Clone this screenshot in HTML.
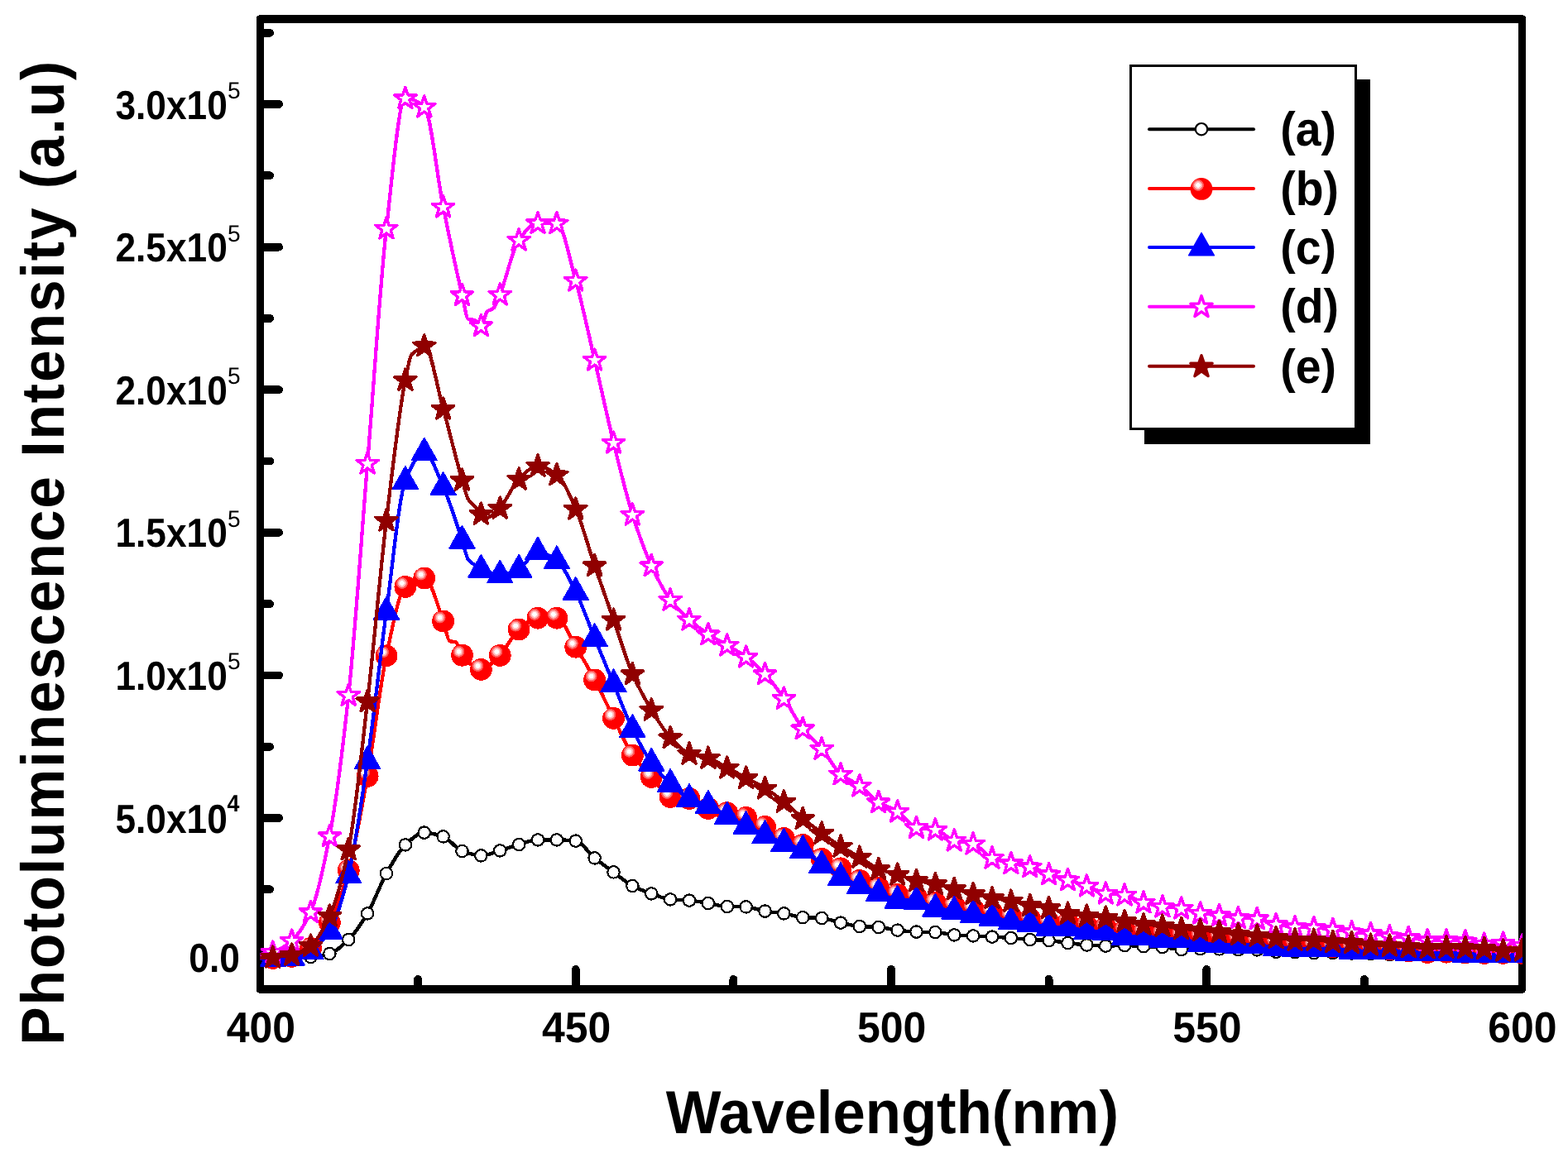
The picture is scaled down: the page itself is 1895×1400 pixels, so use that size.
<!DOCTYPE html>
<html lang="en"><head><meta charset="utf-8"><title>Photoluminescence spectra</title>
<style>html,body{margin:0;padding:0;background:#fff}body{width:1895px;height:1400px;overflow:hidden}svg{display:block}</style></head>
<body>
<svg width="1895" height="1400" viewBox="0 0 1895 1400" font-family="'Liberation Sans', Arial, sans-serif" shape-rendering="crispEdges" text-rendering="geometricPrecision">
<rect x="0" y="0" width="1895" height="1400" fill="#ffffff"/>
<defs>
<clipPath id="plot"><rect x="314.5" y="23.0" width="1525.5" height="1173.0"/></clipPath>
<radialGradient id="ball" cx="0.35" cy="0.335" r="0.262" fx="0.35" fy="0.335" gradientUnits="objectBoundingBox"><stop offset="0" stop-color="#ffffff"/><stop offset="0.38" stop-color="#ffffff"/><stop offset="0.42" stop-color="#ffc8c8"/><stop offset="0.68" stop-color="#ffb0b0"/><stop offset="0.72" stop-color="#ff6868"/><stop offset="0.97" stop-color="#ff5050"/><stop offset="1" stop-color="#ff0000"/></radialGradient>
</defs>
<g stroke="#000" fill="none" stroke-linecap="round" stroke-linejoin="round">
<rect x="314.5" y="23.0" width="1525.0" height="1173.0" stroke-width="9.6"/>
<line x1="314.5" y1="126.00" x2="337.10" y2="126.00" stroke-width="9.8"/>
<line x1="314.5" y1="298.60" x2="337.10" y2="298.60" stroke-width="9.8"/>
<line x1="314.5" y1="471.20" x2="337.10" y2="471.20" stroke-width="9.8"/>
<line x1="314.5" y1="643.80" x2="337.10" y2="643.80" stroke-width="9.8"/>
<line x1="314.5" y1="816.40" x2="337.10" y2="816.40" stroke-width="9.8"/>
<line x1="314.5" y1="989.00" x2="337.10" y2="989.00" stroke-width="9.8"/>
<line x1="314.5" y1="1161.60" x2="337.10" y2="1161.60" stroke-width="9.8"/>
<line x1="314.5" y1="39.70" x2="326.10" y2="39.70" stroke-width="9.8"/>
<line x1="314.5" y1="212.30" x2="326.10" y2="212.30" stroke-width="9.8"/>
<line x1="314.5" y1="384.90" x2="326.10" y2="384.90" stroke-width="9.8"/>
<line x1="314.5" y1="557.50" x2="326.10" y2="557.50" stroke-width="9.8"/>
<line x1="314.5" y1="730.10" x2="326.10" y2="730.10" stroke-width="9.8"/>
<line x1="314.5" y1="902.70" x2="326.10" y2="902.70" stroke-width="9.8"/>
<line x1="314.5" y1="1075.30" x2="326.10" y2="1075.30" stroke-width="9.8"/>
<line x1="695.75" y1="1196.0" x2="695.75" y2="1171.90" stroke-width="9.8"/>
<line x1="1077.00" y1="1196.0" x2="1077.00" y2="1171.90" stroke-width="9.8"/>
<line x1="1458.25" y1="1196.0" x2="1458.25" y2="1171.90" stroke-width="9.8"/>
<line x1="505.12" y1="1196.0" x2="505.12" y2="1183.90" stroke-width="9.8"/>
<line x1="886.38" y1="1196.0" x2="886.38" y2="1183.90" stroke-width="9.8"/>
<line x1="1267.62" y1="1196.0" x2="1267.62" y2="1183.90" stroke-width="9.8"/>
<line x1="1648.88" y1="1196.0" x2="1648.88" y2="1183.90" stroke-width="9.8"/>
</g>
<g fill="#000">
<text transform="matrix(0.49876 0 0 0.52113 273.752 1260.379)" font-size="100" font-weight="bold" text-anchor="start">400</text>
<text transform="matrix(0.49876 0 0 0.52113 655.002 1260.379)" font-size="100" font-weight="bold" text-anchor="start">450</text>
<text transform="matrix(0.49876 0 0 0.52113 1036.003 1260.379)" font-size="100" font-weight="bold" text-anchor="start">500</text>
<text transform="matrix(0.49876 0 0 0.52113 1417.253 1260.379)" font-size="100" font-weight="bold" text-anchor="start">550</text>
<text transform="matrix(0.49876 0 0 0.52113 1798.254 1260.379)" font-size="100" font-weight="bold" text-anchor="start">600</text>
<text transform="matrix(0.44247 0 0 0.49014 139.473 143.560)" font-size="100" font-weight="bold" text-anchor="start">3.0x10</text>
<text transform="matrix(0.28085 0 0 0.28429 274.877 118.666)" font-size="100" font-weight="normal" text-anchor="start">5</text>
<text transform="matrix(0.44247 0 0 0.49014 139.473 316.460)" font-size="100" font-weight="bold" text-anchor="start">2.5x10</text>
<text transform="matrix(0.28085 0 0 0.28429 274.877 291.566)" font-size="100" font-weight="normal" text-anchor="start">5</text>
<text transform="matrix(0.44247 0 0 0.49014 139.473 488.960)" font-size="100" font-weight="bold" text-anchor="start">2.0x10</text>
<text transform="matrix(0.28085 0 0 0.28429 274.877 464.066)" font-size="100" font-weight="normal" text-anchor="start">5</text>
<text transform="matrix(0.44247 0 0 0.49014 139.473 661.460)" font-size="100" font-weight="bold" text-anchor="start">1.5x10</text>
<text transform="matrix(0.28085 0 0 0.28429 274.877 636.566)" font-size="100" font-weight="normal" text-anchor="start">5</text>
<text transform="matrix(0.44247 0 0 0.49014 139.473 833.560)" font-size="100" font-weight="bold" text-anchor="start">1.0x10</text>
<text transform="matrix(0.28085 0 0 0.28429 274.877 808.666)" font-size="100" font-weight="normal" text-anchor="start">5</text>
<text transform="matrix(0.44247 0 0 0.49014 139.473 1006.560)" font-size="100" font-weight="bold" text-anchor="start">5.0x10</text>
<text transform="matrix(0.26792 0 0 0.28841 274.464 980.850)" font-size="100" font-weight="bold" text-anchor="start">4</text>
<text transform="matrix(0.44247 0 0 0.49014 228.366 1174.510)" font-size="100" font-weight="bold" text-anchor="start">0.0</text>
<text transform="matrix(0 -0.69500 0.73333 0 76.800 1263.765)" font-size="100" font-weight="bold" letter-spacing="2.804">Photoluminescence Intensity (a.u)</text>
<text transform="matrix(0.70702 0 0 0.73226 804.700 1370.223)" font-size="100" font-weight="bold" >Wavelength(nm)</text>
</g>
<g clip-path="url(#plot)" shape-rendering="crispEdges">
<path d="M314.50,1160.00 C319.58,1160.00 324.67,1160.00 329.75,1160.00 C337.38,1160.00 345.00,1159.44 352.62,1159.00 C360.25,1158.56 367.88,1157.89 375.50,1157.00 C383.12,1156.11 390.75,1155.16 398.38,1153.00 C406.00,1150.84 413.62,1143.37 421.25,1136.00 C428.88,1128.63 436.50,1117.15 444.12,1104.40 C451.75,1091.65 459.38,1069.45 467.00,1056.00 C474.62,1042.55 482.25,1028.31 489.88,1021.40 C497.50,1014.49 505.12,1006.60 512.75,1006.60 C520.38,1006.60 528.00,1008.89 535.62,1011.40 C543.25,1013.91 550.88,1026.25 558.50,1029.00 C566.12,1031.75 573.75,1034.40 581.38,1034.40 C589.00,1034.40 596.62,1030.61 604.25,1028.40 C611.88,1026.19 619.50,1023.13 627.12,1021.00 C634.75,1018.87 642.38,1015.40 650.00,1015.40 C657.62,1015.40 665.25,1015.40 672.88,1015.40 C680.50,1015.40 688.12,1015.84 695.75,1016.60 C703.38,1017.36 711.00,1031.16 718.62,1037.40 C726.25,1043.64 733.88,1048.80 741.50,1054.40 C749.12,1060.00 756.75,1067.00 764.38,1071.00 C772.00,1075.00 779.62,1077.73 787.25,1080.40 C794.88,1083.07 802.50,1086.72 810.12,1087.40 C817.75,1088.08 825.38,1088.01 833.00,1088.60 C840.62,1089.19 848.25,1090.77 855.88,1092.00 C863.50,1093.23 871.12,1095.76 878.75,1096.00 C886.38,1096.24 894.00,1096.15 901.62,1096.40 C909.25,1096.65 916.88,1100.39 924.50,1101.60 C932.12,1102.81 939.75,1103.22 947.38,1104.40 C955.00,1105.58 962.62,1108.74 970.25,1109.20 C977.88,1109.66 985.50,1109.53 993.12,1110.00 C1000.75,1110.47 1008.38,1113.96 1016.00,1115.60 C1023.62,1117.24 1031.25,1119.46 1038.88,1120.00 C1046.50,1120.54 1054.12,1120.48 1061.75,1121.00 C1069.38,1121.52 1077.00,1123.74 1084.62,1124.60 C1092.25,1125.46 1099.88,1126.38 1107.50,1126.60 C1115.12,1126.82 1122.75,1126.76 1130.38,1127.00 C1138.00,1127.24 1145.62,1129.88 1153.25,1130.40 C1160.88,1130.92 1168.50,1131.04 1176.12,1131.40 C1183.75,1131.76 1191.38,1132.17 1199.00,1132.60 C1206.62,1133.03 1214.25,1133.45 1221.88,1134.00 C1229.50,1134.55 1237.12,1135.56 1244.75,1136.00 C1252.38,1136.44 1260.00,1136.50 1267.62,1137.00 C1275.25,1137.50 1282.88,1139.09 1290.50,1140.00 C1298.12,1140.91 1305.75,1141.99 1313.38,1142.50 C1321.00,1143.01 1328.62,1143.60 1336.25,1143.60 C1343.88,1143.60 1351.50,1143.00 1359.12,1143.00 C1366.75,1143.00 1374.38,1143.77 1382.00,1144.10 C1389.62,1144.43 1397.25,1144.54 1404.88,1145.00 C1412.50,1145.46 1420.12,1148.00 1427.75,1148.00 C1435.38,1148.00 1443.00,1147.20 1450.62,1147.20 C1458.25,1147.20 1465.88,1147.29 1473.50,1147.40 C1481.12,1147.51 1488.75,1148.09 1496.38,1148.20 C1504.00,1148.31 1511.62,1148.28 1519.25,1148.40 C1526.88,1148.52 1534.50,1150.43 1542.12,1150.70 C1549.75,1150.97 1557.38,1150.98 1565.00,1151.20 C1572.62,1151.42 1580.25,1152.20 1587.88,1152.20 C1595.50,1152.20 1603.12,1152.20 1610.75,1152.20 C1618.38,1152.20 1626.00,1152.40 1633.62,1152.50 C1641.25,1152.60 1648.88,1152.64 1656.50,1152.80 C1664.12,1152.96 1671.75,1154.20 1679.38,1154.20 C1687.00,1154.20 1694.62,1153.50 1702.25,1153.50 C1709.88,1153.50 1717.50,1154.00 1725.12,1154.00 C1732.75,1154.00 1740.38,1154.00 1748.00,1154.00 C1755.62,1154.00 1763.25,1154.33 1770.88,1154.50 C1778.50,1154.67 1786.12,1155.00 1793.75,1155.00 C1801.38,1155.00 1809.00,1155.00 1816.62,1155.00 C1824.25,1155.00 1831.88,1155.33 1839.50,1155.50" fill="none" stroke="#000000" stroke-width="4.3999999999999995" stroke-linejoin="round" stroke-linecap="round"/>
<circle cx="329.75" cy="1160.00" r="7.2" fill="#fff" stroke="#000" stroke-width="2.2"/>
<circle cx="352.62" cy="1159.00" r="7.2" fill="#fff" stroke="#000" stroke-width="2.2"/>
<circle cx="375.50" cy="1157.00" r="7.2" fill="#fff" stroke="#000" stroke-width="2.2"/>
<circle cx="398.38" cy="1153.00" r="7.2" fill="#fff" stroke="#000" stroke-width="2.2"/>
<circle cx="421.25" cy="1136.00" r="7.2" fill="#fff" stroke="#000" stroke-width="2.2"/>
<circle cx="444.12" cy="1104.40" r="7.2" fill="#fff" stroke="#000" stroke-width="2.2"/>
<circle cx="467.00" cy="1056.00" r="7.2" fill="#fff" stroke="#000" stroke-width="2.2"/>
<circle cx="489.88" cy="1021.40" r="7.2" fill="#fff" stroke="#000" stroke-width="2.2"/>
<circle cx="512.75" cy="1006.60" r="7.2" fill="#fff" stroke="#000" stroke-width="2.2"/>
<circle cx="535.62" cy="1011.40" r="7.2" fill="#fff" stroke="#000" stroke-width="2.2"/>
<circle cx="558.50" cy="1029.00" r="7.2" fill="#fff" stroke="#000" stroke-width="2.2"/>
<circle cx="581.38" cy="1034.40" r="7.2" fill="#fff" stroke="#000" stroke-width="2.2"/>
<circle cx="604.25" cy="1028.40" r="7.2" fill="#fff" stroke="#000" stroke-width="2.2"/>
<circle cx="627.12" cy="1021.00" r="7.2" fill="#fff" stroke="#000" stroke-width="2.2"/>
<circle cx="650.00" cy="1015.40" r="7.2" fill="#fff" stroke="#000" stroke-width="2.2"/>
<circle cx="672.88" cy="1015.40" r="7.2" fill="#fff" stroke="#000" stroke-width="2.2"/>
<circle cx="695.75" cy="1016.60" r="7.2" fill="#fff" stroke="#000" stroke-width="2.2"/>
<circle cx="718.62" cy="1037.40" r="7.2" fill="#fff" stroke="#000" stroke-width="2.2"/>
<circle cx="741.50" cy="1054.40" r="7.2" fill="#fff" stroke="#000" stroke-width="2.2"/>
<circle cx="764.38" cy="1071.00" r="7.2" fill="#fff" stroke="#000" stroke-width="2.2"/>
<circle cx="787.25" cy="1080.40" r="7.2" fill="#fff" stroke="#000" stroke-width="2.2"/>
<circle cx="810.12" cy="1087.40" r="7.2" fill="#fff" stroke="#000" stroke-width="2.2"/>
<circle cx="833.00" cy="1088.60" r="7.2" fill="#fff" stroke="#000" stroke-width="2.2"/>
<circle cx="855.88" cy="1092.00" r="7.2" fill="#fff" stroke="#000" stroke-width="2.2"/>
<circle cx="878.75" cy="1096.00" r="7.2" fill="#fff" stroke="#000" stroke-width="2.2"/>
<circle cx="901.62" cy="1096.40" r="7.2" fill="#fff" stroke="#000" stroke-width="2.2"/>
<circle cx="924.50" cy="1101.60" r="7.2" fill="#fff" stroke="#000" stroke-width="2.2"/>
<circle cx="947.38" cy="1104.40" r="7.2" fill="#fff" stroke="#000" stroke-width="2.2"/>
<circle cx="970.25" cy="1109.20" r="7.2" fill="#fff" stroke="#000" stroke-width="2.2"/>
<circle cx="993.12" cy="1110.00" r="7.2" fill="#fff" stroke="#000" stroke-width="2.2"/>
<circle cx="1016.00" cy="1115.60" r="7.2" fill="#fff" stroke="#000" stroke-width="2.2"/>
<circle cx="1038.88" cy="1120.00" r="7.2" fill="#fff" stroke="#000" stroke-width="2.2"/>
<circle cx="1061.75" cy="1121.00" r="7.2" fill="#fff" stroke="#000" stroke-width="2.2"/>
<circle cx="1084.62" cy="1124.60" r="7.2" fill="#fff" stroke="#000" stroke-width="2.2"/>
<circle cx="1107.50" cy="1126.60" r="7.2" fill="#fff" stroke="#000" stroke-width="2.2"/>
<circle cx="1130.38" cy="1127.00" r="7.2" fill="#fff" stroke="#000" stroke-width="2.2"/>
<circle cx="1153.25" cy="1130.40" r="7.2" fill="#fff" stroke="#000" stroke-width="2.2"/>
<circle cx="1176.12" cy="1131.40" r="7.2" fill="#fff" stroke="#000" stroke-width="2.2"/>
<circle cx="1199.00" cy="1132.60" r="7.2" fill="#fff" stroke="#000" stroke-width="2.2"/>
<circle cx="1221.88" cy="1134.00" r="7.2" fill="#fff" stroke="#000" stroke-width="2.2"/>
<circle cx="1244.75" cy="1136.00" r="7.2" fill="#fff" stroke="#000" stroke-width="2.2"/>
<circle cx="1267.62" cy="1137.00" r="7.2" fill="#fff" stroke="#000" stroke-width="2.2"/>
<circle cx="1290.50" cy="1140.00" r="7.2" fill="#fff" stroke="#000" stroke-width="2.2"/>
<circle cx="1313.38" cy="1142.50" r="7.2" fill="#fff" stroke="#000" stroke-width="2.2"/>
<circle cx="1336.25" cy="1143.60" r="7.2" fill="#fff" stroke="#000" stroke-width="2.2"/>
<circle cx="1359.12" cy="1143.00" r="7.2" fill="#fff" stroke="#000" stroke-width="2.2"/>
<circle cx="1382.00" cy="1144.10" r="7.2" fill="#fff" stroke="#000" stroke-width="2.2"/>
<circle cx="1404.88" cy="1145.00" r="7.2" fill="#fff" stroke="#000" stroke-width="2.2"/>
<circle cx="1427.75" cy="1148.00" r="7.2" fill="#fff" stroke="#000" stroke-width="2.2"/>
<circle cx="1450.62" cy="1147.20" r="7.2" fill="#fff" stroke="#000" stroke-width="2.2"/>
<circle cx="1473.50" cy="1147.40" r="7.2" fill="#fff" stroke="#000" stroke-width="2.2"/>
<circle cx="1496.38" cy="1148.20" r="7.2" fill="#fff" stroke="#000" stroke-width="2.2"/>
<circle cx="1519.25" cy="1148.40" r="7.2" fill="#fff" stroke="#000" stroke-width="2.2"/>
<circle cx="1542.12" cy="1150.70" r="7.2" fill="#fff" stroke="#000" stroke-width="2.2"/>
<circle cx="1565.00" cy="1151.20" r="7.2" fill="#fff" stroke="#000" stroke-width="2.2"/>
<circle cx="1587.88" cy="1152.20" r="7.2" fill="#fff" stroke="#000" stroke-width="2.2"/>
<circle cx="1610.75" cy="1152.20" r="7.2" fill="#fff" stroke="#000" stroke-width="2.2"/>
<circle cx="1633.62" cy="1152.50" r="7.2" fill="#fff" stroke="#000" stroke-width="2.2"/>
<circle cx="1656.50" cy="1152.80" r="7.2" fill="#fff" stroke="#000" stroke-width="2.2"/>
<circle cx="1679.38" cy="1154.20" r="7.2" fill="#fff" stroke="#000" stroke-width="2.2"/>
<circle cx="1702.25" cy="1153.50" r="7.2" fill="#fff" stroke="#000" stroke-width="2.2"/>
<circle cx="1725.12" cy="1154.00" r="7.2" fill="#fff" stroke="#000" stroke-width="2.2"/>
<circle cx="1748.00" cy="1154.00" r="7.2" fill="#fff" stroke="#000" stroke-width="2.2"/>
<circle cx="1770.88" cy="1154.50" r="7.2" fill="#fff" stroke="#000" stroke-width="2.2"/>
<circle cx="1793.75" cy="1155.00" r="7.2" fill="#fff" stroke="#000" stroke-width="2.2"/>
<circle cx="1816.62" cy="1155.00" r="7.2" fill="#fff" stroke="#000" stroke-width="2.2"/>
<circle cx="1839.50" cy="1155.50" r="7.2" fill="#fff" stroke="#000" stroke-width="2.2"/>
<path d="M314.50,1158.50 C319.58,1158.33 324.67,1158.24 329.75,1158.00 C337.38,1157.65 345.00,1157.11 352.62,1156.00 C360.25,1154.89 367.88,1151.04 375.50,1146.00 C383.12,1140.96 390.75,1128.85 398.38,1115.00 C406.00,1101.15 413.62,1079.05 421.25,1052.00 C428.88,1024.95 436.50,980.63 444.12,938.00 C451.75,895.37 459.38,827.75 467.00,792.40 C474.62,757.05 482.25,715.16 489.88,709.00 C497.50,702.84 505.12,698.60 512.75,698.60 C520.38,698.60 528.00,729.74 535.62,750.60 C538.17,757.55 540.71,774.06 543.25,775.00 C545.79,775.94 548.33,775.59 550.88,776.50 C553.42,777.41 555.96,788.79 558.50,791.80 C566.12,800.83 573.75,809.00 581.38,809.00 C589.00,809.00 596.62,799.35 604.25,792.00 C611.88,784.65 619.50,766.99 627.12,760.60 C634.75,754.21 642.38,746.80 650.00,746.80 C657.62,746.80 665.25,746.80 672.88,746.80 C680.50,746.80 688.12,769.40 695.75,781.80 C703.38,794.20 711.00,807.22 718.62,821.50 C726.25,835.78 733.88,852.81 741.50,868.00 C749.12,883.19 756.75,901.66 764.38,912.70 C772.00,923.74 779.62,930.63 787.25,939.00 C794.88,947.37 802.50,961.77 810.12,963.00 C817.75,964.23 825.38,963.86 833.00,965.00 C840.62,966.14 848.25,974.55 855.88,977.00 C863.50,979.45 871.12,980.47 878.75,982.30 C886.38,984.13 894.00,985.50 901.62,988.00 C909.25,990.50 916.88,994.89 924.50,999.00 C932.12,1003.11 939.75,1009.61 947.38,1013.00 C955.00,1016.39 962.62,1017.37 970.25,1021.00 C977.88,1024.63 985.50,1033.45 993.12,1038.00 C1000.75,1042.55 1008.38,1045.13 1016.00,1049.40 C1023.62,1053.67 1031.25,1060.29 1038.88,1064.00 C1046.50,1067.71 1054.12,1070.18 1061.75,1073.00 C1069.38,1075.82 1077.00,1079.55 1084.62,1081.00 C1092.25,1082.45 1099.88,1082.60 1107.50,1084.00 C1115.12,1085.40 1122.75,1089.30 1130.38,1091.00 C1138.00,1092.70 1145.62,1093.67 1153.25,1095.00 C1160.88,1096.33 1168.50,1097.67 1176.12,1099.00 C1183.75,1100.33 1191.38,1101.52 1199.00,1103.00 C1206.62,1104.48 1214.25,1106.75 1221.88,1108.00 C1229.50,1109.25 1237.12,1109.86 1244.75,1111.00 C1252.38,1112.14 1260.00,1115.00 1267.62,1115.00 C1275.25,1115.00 1282.88,1115.00 1290.50,1115.00 C1298.12,1115.00 1305.75,1118.11 1313.38,1119.00 C1321.00,1119.89 1328.62,1120.11 1336.25,1121.00 C1343.88,1121.89 1351.50,1124.11 1359.12,1125.00 C1366.75,1125.89 1374.38,1126.33 1382.00,1127.00 C1389.62,1127.67 1397.25,1128.33 1404.88,1129.00 C1412.50,1129.67 1420.12,1130.56 1427.75,1131.00 C1435.38,1131.44 1443.00,1131.70 1450.62,1132.00 C1458.25,1132.30 1465.88,1132.41 1473.50,1132.80 C1481.12,1133.19 1488.75,1134.12 1496.38,1135.00 C1504.00,1135.88 1511.62,1137.55 1519.25,1138.30 C1526.88,1139.05 1534.50,1139.47 1542.12,1140.00 C1549.75,1140.53 1557.38,1141.00 1565.00,1141.50 C1572.62,1142.00 1580.25,1142.50 1587.88,1143.00 C1595.50,1143.50 1603.12,1144.10 1610.75,1144.50 C1618.38,1144.90 1626.00,1145.15 1633.62,1145.50 C1641.25,1145.85 1648.88,1146.29 1656.50,1146.60 C1664.12,1146.91 1671.75,1147.01 1679.38,1147.40 C1687.00,1147.79 1694.62,1148.92 1702.25,1149.50 C1709.88,1150.08 1717.50,1151.00 1725.12,1151.00 C1732.75,1151.00 1740.38,1150.80 1748.00,1150.80 C1755.62,1150.80 1763.25,1151.31 1770.88,1151.50 C1778.50,1151.69 1786.12,1152.00 1793.75,1152.00 C1801.38,1152.00 1809.00,1152.00 1816.62,1152.00 C1824.25,1152.00 1831.88,1152.00 1839.50,1152.00" fill="none" stroke="#ff0000" stroke-width="4.3" stroke-linejoin="round" stroke-linecap="round"/>
<circle cx="329.75" cy="1158.40" r="13.4" fill="url(#ball)"/>
<circle cx="352.62" cy="1156.40" r="13.4" fill="url(#ball)"/>
<circle cx="375.50" cy="1146.40" r="13.4" fill="url(#ball)"/>
<circle cx="398.38" cy="1115.40" r="13.4" fill="url(#ball)"/>
<circle cx="421.25" cy="1052.40" r="13.4" fill="url(#ball)"/>
<circle cx="444.12" cy="938.40" r="13.4" fill="url(#ball)"/>
<circle cx="467.00" cy="792.80" r="13.4" fill="url(#ball)"/>
<circle cx="489.88" cy="709.40" r="13.4" fill="url(#ball)"/>
<circle cx="512.75" cy="699.00" r="13.4" fill="url(#ball)"/>
<circle cx="535.62" cy="751.00" r="13.4" fill="url(#ball)"/>
<circle cx="558.50" cy="792.20" r="13.4" fill="url(#ball)"/>
<circle cx="581.38" cy="809.40" r="13.4" fill="url(#ball)"/>
<circle cx="604.25" cy="792.40" r="13.4" fill="url(#ball)"/>
<circle cx="627.12" cy="761.00" r="13.4" fill="url(#ball)"/>
<circle cx="650.00" cy="747.20" r="13.4" fill="url(#ball)"/>
<circle cx="672.88" cy="747.20" r="13.4" fill="url(#ball)"/>
<circle cx="695.75" cy="782.20" r="13.4" fill="url(#ball)"/>
<circle cx="718.62" cy="821.90" r="13.4" fill="url(#ball)"/>
<circle cx="741.50" cy="868.40" r="13.4" fill="url(#ball)"/>
<circle cx="764.38" cy="913.10" r="13.4" fill="url(#ball)"/>
<circle cx="787.25" cy="939.40" r="13.4" fill="url(#ball)"/>
<circle cx="810.12" cy="963.40" r="13.4" fill="url(#ball)"/>
<circle cx="833.00" cy="965.40" r="13.4" fill="url(#ball)"/>
<circle cx="855.88" cy="977.40" r="13.4" fill="url(#ball)"/>
<circle cx="878.75" cy="982.70" r="13.4" fill="url(#ball)"/>
<circle cx="901.62" cy="988.40" r="13.4" fill="url(#ball)"/>
<circle cx="924.50" cy="999.40" r="13.4" fill="url(#ball)"/>
<circle cx="947.38" cy="1013.40" r="13.4" fill="url(#ball)"/>
<circle cx="970.25" cy="1021.40" r="13.4" fill="url(#ball)"/>
<circle cx="993.12" cy="1038.40" r="13.4" fill="url(#ball)"/>
<circle cx="1016.00" cy="1049.80" r="13.4" fill="url(#ball)"/>
<circle cx="1038.88" cy="1064.40" r="13.4" fill="url(#ball)"/>
<circle cx="1061.75" cy="1073.40" r="13.4" fill="url(#ball)"/>
<circle cx="1084.62" cy="1081.40" r="13.4" fill="url(#ball)"/>
<circle cx="1107.50" cy="1084.40" r="13.4" fill="url(#ball)"/>
<circle cx="1130.38" cy="1091.40" r="13.4" fill="url(#ball)"/>
<circle cx="1153.25" cy="1095.40" r="13.4" fill="url(#ball)"/>
<circle cx="1176.12" cy="1099.40" r="13.4" fill="url(#ball)"/>
<circle cx="1199.00" cy="1103.40" r="13.4" fill="url(#ball)"/>
<circle cx="1221.88" cy="1108.40" r="13.4" fill="url(#ball)"/>
<circle cx="1244.75" cy="1111.40" r="13.4" fill="url(#ball)"/>
<circle cx="1267.62" cy="1115.40" r="13.4" fill="url(#ball)"/>
<circle cx="1290.50" cy="1115.40" r="13.4" fill="url(#ball)"/>
<circle cx="1313.38" cy="1119.40" r="13.4" fill="url(#ball)"/>
<circle cx="1336.25" cy="1121.40" r="13.4" fill="url(#ball)"/>
<circle cx="1359.12" cy="1125.40" r="13.4" fill="url(#ball)"/>
<circle cx="1382.00" cy="1127.40" r="13.4" fill="url(#ball)"/>
<circle cx="1404.88" cy="1129.40" r="13.4" fill="url(#ball)"/>
<circle cx="1427.75" cy="1131.40" r="13.4" fill="url(#ball)"/>
<circle cx="1450.62" cy="1132.40" r="13.4" fill="url(#ball)"/>
<circle cx="1473.50" cy="1133.20" r="13.4" fill="url(#ball)"/>
<circle cx="1496.38" cy="1135.40" r="13.4" fill="url(#ball)"/>
<circle cx="1519.25" cy="1138.70" r="13.4" fill="url(#ball)"/>
<circle cx="1542.12" cy="1140.40" r="13.4" fill="url(#ball)"/>
<circle cx="1565.00" cy="1141.90" r="13.4" fill="url(#ball)"/>
<circle cx="1587.88" cy="1143.40" r="13.4" fill="url(#ball)"/>
<circle cx="1610.75" cy="1144.90" r="13.4" fill="url(#ball)"/>
<circle cx="1633.62" cy="1145.90" r="13.4" fill="url(#ball)"/>
<circle cx="1656.50" cy="1147.00" r="13.4" fill="url(#ball)"/>
<circle cx="1679.38" cy="1147.80" r="13.4" fill="url(#ball)"/>
<circle cx="1702.25" cy="1149.90" r="13.4" fill="url(#ball)"/>
<circle cx="1725.12" cy="1151.40" r="13.4" fill="url(#ball)"/>
<circle cx="1748.00" cy="1151.20" r="13.4" fill="url(#ball)"/>
<circle cx="1770.88" cy="1151.90" r="13.4" fill="url(#ball)"/>
<circle cx="1793.75" cy="1152.40" r="13.4" fill="url(#ball)"/>
<circle cx="1816.62" cy="1152.40" r="13.4" fill="url(#ball)"/>
<circle cx="1839.50" cy="1152.40" r="13.4" fill="url(#ball)"/>
<path d="M314.50,1159.00 C319.58,1158.80 324.67,1158.64 329.75,1158.40 C337.38,1158.04 345.00,1157.79 352.62,1157.00 C360.25,1156.21 367.88,1153.26 375.50,1149.40 C383.12,1145.54 390.75,1136.93 398.38,1125.00 C406.00,1113.07 413.62,1087.96 421.25,1057.80 C428.88,1027.64 436.50,971.61 444.12,919.40 C451.75,867.19 459.38,795.10 467.00,739.00 C474.62,682.90 482.25,600.17 489.88,581.30 C497.50,562.43 505.12,546.80 512.75,546.80 C520.38,546.80 528.00,571.44 535.62,588.30 C543.25,605.16 550.88,630.08 558.50,653.00 C561.04,660.64 563.58,673.80 566.12,677.00 C568.67,680.20 571.21,681.18 573.75,683.00 C576.29,684.82 578.83,686.89 581.38,688.00 C589.00,691.33 596.62,694.80 604.25,694.80 C611.88,694.80 619.50,691.43 627.12,688.00 C634.75,684.57 642.38,666.80 650.00,666.80 C657.62,666.80 665.25,672.00 672.88,677.60 C680.50,683.20 688.12,700.28 695.75,715.30 C703.38,730.32 711.00,752.75 718.62,771.30 C726.25,789.85 733.88,808.27 741.50,826.60 C749.12,844.93 756.75,865.74 764.38,881.30 C772.00,896.86 779.62,911.62 787.25,922.00 C794.88,932.38 802.50,940.18 810.12,947.20 C817.75,954.22 825.38,961.60 833.00,965.30 C840.62,969.00 848.25,969.95 855.88,973.30 C863.50,976.65 871.12,982.62 878.75,986.80 C886.38,990.98 894.00,994.74 901.62,998.50 C909.25,1002.26 916.88,1005.98 924.50,1009.40 C932.12,1012.82 939.75,1016.14 947.38,1019.10 C955.00,1022.06 962.62,1023.52 970.25,1027.30 C977.88,1031.08 985.50,1040.15 993.12,1045.60 C1000.75,1051.05 1008.38,1056.37 1016.00,1060.40 C1023.62,1064.43 1031.25,1067.38 1038.88,1070.60 C1046.50,1073.82 1054.12,1076.91 1061.75,1079.80 C1069.38,1082.69 1077.00,1087.41 1084.62,1088.00 C1092.25,1088.59 1099.88,1088.40 1107.50,1089.00 C1115.12,1089.60 1122.75,1096.50 1130.38,1098.00 C1138.00,1099.50 1145.62,1099.86 1153.25,1101.00 C1160.88,1102.14 1168.50,1103.67 1176.12,1105.00 C1183.75,1106.33 1191.38,1107.55 1199.00,1109.00 C1206.62,1110.45 1214.25,1112.79 1221.88,1113.80 C1229.50,1114.81 1237.12,1114.98 1244.75,1116.00 C1252.38,1117.02 1260.00,1120.75 1267.62,1121.00 C1275.25,1121.25 1282.88,1121.16 1290.50,1121.40 C1298.12,1121.64 1305.75,1124.87 1313.38,1125.40 C1321.00,1125.93 1328.62,1125.83 1336.25,1126.40 C1343.88,1126.97 1351.50,1132.00 1359.12,1132.00 C1366.75,1132.00 1374.38,1132.00 1382.00,1132.00 C1389.62,1132.00 1397.25,1135.00 1404.88,1135.00 C1412.50,1135.00 1420.12,1135.00 1427.75,1135.00 C1435.38,1135.00 1443.00,1140.23 1450.62,1140.80 C1458.25,1141.37 1465.88,1141.61 1473.50,1141.80 C1481.12,1141.99 1488.75,1142.20 1496.38,1142.20 C1504.00,1142.20 1511.62,1142.20 1519.25,1142.20 C1526.88,1142.20 1534.50,1145.28 1542.12,1145.80 C1549.75,1146.32 1557.38,1146.80 1565.00,1146.80 C1572.62,1146.80 1580.25,1146.80 1587.88,1146.80 C1595.50,1146.80 1603.12,1146.80 1610.75,1146.80 C1618.38,1146.80 1626.00,1149.17 1633.62,1149.40 C1641.25,1149.63 1648.88,1149.80 1656.50,1149.80 C1664.12,1149.80 1671.75,1149.80 1679.38,1149.80 C1687.00,1149.80 1694.62,1151.19 1702.25,1151.40 C1709.88,1151.61 1717.50,1151.80 1725.12,1151.80 C1732.75,1151.80 1740.38,1151.80 1748.00,1151.80 C1755.62,1151.80 1763.25,1153.19 1770.88,1153.40 C1778.50,1153.61 1786.12,1153.80 1793.75,1153.80 C1801.38,1153.80 1809.00,1153.80 1816.62,1153.80 C1824.25,1153.80 1831.88,1153.80 1839.50,1153.80" fill="none" stroke="#0000ff" stroke-width="4.3" stroke-linejoin="round" stroke-linecap="round"/>
<polygon points="329.75,1141.00 345.10,1168.20 314.40,1168.20" fill="#0000ff" stroke="#0000ff" stroke-width="1.6" stroke-linejoin="round"/>
<polygon points="352.62,1139.60 367.98,1166.80 337.27,1166.80" fill="#0000ff" stroke="#0000ff" stroke-width="1.6" stroke-linejoin="round"/>
<polygon points="375.50,1132.00 390.85,1159.20 360.15,1159.20" fill="#0000ff" stroke="#0000ff" stroke-width="1.6" stroke-linejoin="round"/>
<polygon points="398.38,1107.60 413.73,1134.80 383.02,1134.80" fill="#0000ff" stroke="#0000ff" stroke-width="1.6" stroke-linejoin="round"/>
<polygon points="421.25,1040.40 436.60,1067.60 405.90,1067.60" fill="#0000ff" stroke="#0000ff" stroke-width="1.6" stroke-linejoin="round"/>
<polygon points="444.12,902.00 459.48,929.20 428.77,929.20" fill="#0000ff" stroke="#0000ff" stroke-width="1.6" stroke-linejoin="round"/>
<polygon points="467.00,721.60 482.35,748.80 451.65,748.80" fill="#0000ff" stroke="#0000ff" stroke-width="1.6" stroke-linejoin="round"/>
<polygon points="489.88,563.90 505.23,591.10 474.52,591.10" fill="#0000ff" stroke="#0000ff" stroke-width="1.6" stroke-linejoin="round"/>
<polygon points="512.75,529.40 528.10,556.60 497.40,556.60" fill="#0000ff" stroke="#0000ff" stroke-width="1.6" stroke-linejoin="round"/>
<polygon points="535.62,570.90 550.98,598.10 520.27,598.10" fill="#0000ff" stroke="#0000ff" stroke-width="1.6" stroke-linejoin="round"/>
<polygon points="558.50,635.60 573.85,662.80 543.15,662.80" fill="#0000ff" stroke="#0000ff" stroke-width="1.6" stroke-linejoin="round"/>
<polygon points="581.38,670.60 596.73,697.80 566.02,697.80" fill="#0000ff" stroke="#0000ff" stroke-width="1.6" stroke-linejoin="round"/>
<polygon points="604.25,677.40 619.60,704.60 588.90,704.60" fill="#0000ff" stroke="#0000ff" stroke-width="1.6" stroke-linejoin="round"/>
<polygon points="627.12,670.60 642.48,697.80 611.77,697.80" fill="#0000ff" stroke="#0000ff" stroke-width="1.6" stroke-linejoin="round"/>
<polygon points="650.00,649.40 665.35,676.60 634.65,676.60" fill="#0000ff" stroke="#0000ff" stroke-width="1.6" stroke-linejoin="round"/>
<polygon points="672.88,660.20 688.23,687.40 657.52,687.40" fill="#0000ff" stroke="#0000ff" stroke-width="1.6" stroke-linejoin="round"/>
<polygon points="695.75,697.90 711.10,725.10 680.40,725.10" fill="#0000ff" stroke="#0000ff" stroke-width="1.6" stroke-linejoin="round"/>
<polygon points="718.62,753.90 733.98,781.10 703.27,781.10" fill="#0000ff" stroke="#0000ff" stroke-width="1.6" stroke-linejoin="round"/>
<polygon points="741.50,809.20 756.85,836.40 726.15,836.40" fill="#0000ff" stroke="#0000ff" stroke-width="1.6" stroke-linejoin="round"/>
<polygon points="764.38,863.90 779.73,891.10 749.02,891.10" fill="#0000ff" stroke="#0000ff" stroke-width="1.6" stroke-linejoin="round"/>
<polygon points="787.25,904.60 802.60,931.80 771.90,931.80" fill="#0000ff" stroke="#0000ff" stroke-width="1.6" stroke-linejoin="round"/>
<polygon points="810.12,929.80 825.48,957.00 794.77,957.00" fill="#0000ff" stroke="#0000ff" stroke-width="1.6" stroke-linejoin="round"/>
<polygon points="833.00,947.90 848.35,975.10 817.65,975.10" fill="#0000ff" stroke="#0000ff" stroke-width="1.6" stroke-linejoin="round"/>
<polygon points="855.88,955.90 871.23,983.10 840.52,983.10" fill="#0000ff" stroke="#0000ff" stroke-width="1.6" stroke-linejoin="round"/>
<polygon points="878.75,969.40 894.10,996.60 863.40,996.60" fill="#0000ff" stroke="#0000ff" stroke-width="1.6" stroke-linejoin="round"/>
<polygon points="901.62,981.10 916.98,1008.30 886.27,1008.30" fill="#0000ff" stroke="#0000ff" stroke-width="1.6" stroke-linejoin="round"/>
<polygon points="924.50,992.00 939.85,1019.20 909.15,1019.20" fill="#0000ff" stroke="#0000ff" stroke-width="1.6" stroke-linejoin="round"/>
<polygon points="947.38,1001.70 962.73,1028.90 932.02,1028.90" fill="#0000ff" stroke="#0000ff" stroke-width="1.6" stroke-linejoin="round"/>
<polygon points="970.25,1009.90 985.60,1037.10 954.90,1037.10" fill="#0000ff" stroke="#0000ff" stroke-width="1.6" stroke-linejoin="round"/>
<polygon points="993.12,1028.20 1008.48,1055.40 977.77,1055.40" fill="#0000ff" stroke="#0000ff" stroke-width="1.6" stroke-linejoin="round"/>
<polygon points="1016.00,1043.00 1031.35,1070.20 1000.65,1070.20" fill="#0000ff" stroke="#0000ff" stroke-width="1.6" stroke-linejoin="round"/>
<polygon points="1038.88,1053.20 1054.22,1080.40 1023.52,1080.40" fill="#0000ff" stroke="#0000ff" stroke-width="1.6" stroke-linejoin="round"/>
<polygon points="1061.75,1062.40 1077.10,1089.60 1046.40,1089.60" fill="#0000ff" stroke="#0000ff" stroke-width="1.6" stroke-linejoin="round"/>
<polygon points="1084.62,1070.60 1099.97,1097.80 1069.28,1097.80" fill="#0000ff" stroke="#0000ff" stroke-width="1.6" stroke-linejoin="round"/>
<polygon points="1107.50,1071.60 1122.85,1098.80 1092.15,1098.80" fill="#0000ff" stroke="#0000ff" stroke-width="1.6" stroke-linejoin="round"/>
<polygon points="1130.38,1080.60 1145.72,1107.80 1115.03,1107.80" fill="#0000ff" stroke="#0000ff" stroke-width="1.6" stroke-linejoin="round"/>
<polygon points="1153.25,1083.60 1168.60,1110.80 1137.90,1110.80" fill="#0000ff" stroke="#0000ff" stroke-width="1.6" stroke-linejoin="round"/>
<polygon points="1176.12,1087.60 1191.47,1114.80 1160.78,1114.80" fill="#0000ff" stroke="#0000ff" stroke-width="1.6" stroke-linejoin="round"/>
<polygon points="1199.00,1091.60 1214.35,1118.80 1183.65,1118.80" fill="#0000ff" stroke="#0000ff" stroke-width="1.6" stroke-linejoin="round"/>
<polygon points="1221.88,1096.40 1237.22,1123.60 1206.53,1123.60" fill="#0000ff" stroke="#0000ff" stroke-width="1.6" stroke-linejoin="round"/>
<polygon points="1244.75,1098.60 1260.10,1125.80 1229.40,1125.80" fill="#0000ff" stroke="#0000ff" stroke-width="1.6" stroke-linejoin="round"/>
<polygon points="1267.62,1103.60 1282.97,1130.80 1252.28,1130.80" fill="#0000ff" stroke="#0000ff" stroke-width="1.6" stroke-linejoin="round"/>
<polygon points="1290.50,1104.00 1305.85,1131.20 1275.15,1131.20" fill="#0000ff" stroke="#0000ff" stroke-width="1.6" stroke-linejoin="round"/>
<polygon points="1313.38,1108.00 1328.72,1135.20 1298.03,1135.20" fill="#0000ff" stroke="#0000ff" stroke-width="1.6" stroke-linejoin="round"/>
<polygon points="1336.25,1109.00 1351.60,1136.20 1320.90,1136.20" fill="#0000ff" stroke="#0000ff" stroke-width="1.6" stroke-linejoin="round"/>
<polygon points="1359.12,1114.60 1374.47,1141.80 1343.78,1141.80" fill="#0000ff" stroke="#0000ff" stroke-width="1.6" stroke-linejoin="round"/>
<polygon points="1382.00,1114.60 1397.35,1141.80 1366.65,1141.80" fill="#0000ff" stroke="#0000ff" stroke-width="1.6" stroke-linejoin="round"/>
<polygon points="1404.88,1117.60 1420.22,1144.80 1389.53,1144.80" fill="#0000ff" stroke="#0000ff" stroke-width="1.6" stroke-linejoin="round"/>
<polygon points="1427.75,1117.60 1443.10,1144.80 1412.40,1144.80" fill="#0000ff" stroke="#0000ff" stroke-width="1.6" stroke-linejoin="round"/>
<polygon points="1450.62,1123.40 1465.97,1150.60 1435.28,1150.60" fill="#0000ff" stroke="#0000ff" stroke-width="1.6" stroke-linejoin="round"/>
<polygon points="1473.50,1124.40 1488.85,1151.60 1458.15,1151.60" fill="#0000ff" stroke="#0000ff" stroke-width="1.6" stroke-linejoin="round"/>
<polygon points="1496.38,1124.80 1511.72,1152.00 1481.03,1152.00" fill="#0000ff" stroke="#0000ff" stroke-width="1.6" stroke-linejoin="round"/>
<polygon points="1519.25,1124.80 1534.60,1152.00 1503.90,1152.00" fill="#0000ff" stroke="#0000ff" stroke-width="1.6" stroke-linejoin="round"/>
<polygon points="1542.12,1128.40 1557.47,1155.60 1526.78,1155.60" fill="#0000ff" stroke="#0000ff" stroke-width="1.6" stroke-linejoin="round"/>
<polygon points="1565.00,1129.40 1580.35,1156.60 1549.65,1156.60" fill="#0000ff" stroke="#0000ff" stroke-width="1.6" stroke-linejoin="round"/>
<polygon points="1587.88,1129.40 1603.22,1156.60 1572.53,1156.60" fill="#0000ff" stroke="#0000ff" stroke-width="1.6" stroke-linejoin="round"/>
<polygon points="1610.75,1129.40 1626.10,1156.60 1595.40,1156.60" fill="#0000ff" stroke="#0000ff" stroke-width="1.6" stroke-linejoin="round"/>
<polygon points="1633.62,1132.00 1648.97,1159.20 1618.28,1159.20" fill="#0000ff" stroke="#0000ff" stroke-width="1.6" stroke-linejoin="round"/>
<polygon points="1656.50,1132.40 1671.85,1159.60 1641.15,1159.60" fill="#0000ff" stroke="#0000ff" stroke-width="1.6" stroke-linejoin="round"/>
<polygon points="1679.38,1132.40 1694.72,1159.60 1664.03,1159.60" fill="#0000ff" stroke="#0000ff" stroke-width="1.6" stroke-linejoin="round"/>
<polygon points="1702.25,1134.00 1717.60,1161.20 1686.90,1161.20" fill="#0000ff" stroke="#0000ff" stroke-width="1.6" stroke-linejoin="round"/>
<polygon points="1725.12,1134.40 1740.47,1161.60 1709.78,1161.60" fill="#0000ff" stroke="#0000ff" stroke-width="1.6" stroke-linejoin="round"/>
<polygon points="1748.00,1134.40 1763.35,1161.60 1732.65,1161.60" fill="#0000ff" stroke="#0000ff" stroke-width="1.6" stroke-linejoin="round"/>
<polygon points="1770.88,1136.00 1786.22,1163.20 1755.53,1163.20" fill="#0000ff" stroke="#0000ff" stroke-width="1.6" stroke-linejoin="round"/>
<polygon points="1793.75,1136.40 1809.10,1163.60 1778.40,1163.60" fill="#0000ff" stroke="#0000ff" stroke-width="1.6" stroke-linejoin="round"/>
<polygon points="1816.62,1136.40 1831.97,1163.60 1801.28,1163.60" fill="#0000ff" stroke="#0000ff" stroke-width="1.6" stroke-linejoin="round"/>
<polygon points="1839.50,1136.40 1854.85,1163.60 1824.15,1163.60" fill="#0000ff" stroke="#0000ff" stroke-width="1.6" stroke-linejoin="round"/>
<path d="M314.50,1154.00 C319.58,1153.07 324.67,1152.59 329.75,1151.20 C337.38,1149.12 345.00,1143.85 352.62,1137.20 C360.25,1130.55 367.88,1119.29 375.50,1102.50 C383.12,1085.71 390.75,1050.47 398.38,1010.70 C406.00,970.93 413.62,910.95 421.25,840.30 C428.88,769.65 436.50,654.05 444.12,560.00 C451.75,465.95 459.38,343.54 467.00,276.00 C474.62,208.46 482.25,118.50 489.88,118.50 C497.50,118.50 505.12,122.56 512.75,129.00 C520.38,135.44 528.00,212.24 535.62,250.00 C543.25,287.76 550.88,324.77 558.50,356.50 C561.04,367.08 563.58,385.36 566.12,386.00 C568.67,386.64 571.21,386.42 573.75,387.00 C576.29,387.58 578.83,393.60 581.38,393.60 C583.92,393.60 586.46,378.66 589.00,376.50 C591.54,374.34 594.08,374.65 596.62,372.50 C599.17,370.35 601.71,362.14 604.25,356.00 C611.88,337.58 619.50,300.39 627.12,290.00 C634.75,279.61 642.38,269.60 650.00,269.60 C657.62,269.60 665.25,269.67 672.88,269.80 C680.50,269.93 688.12,312.27 695.75,339.10 C703.38,365.93 711.00,402.45 718.62,435.10 C726.25,467.75 733.88,504.08 741.50,535.10 C749.12,566.12 756.75,598.06 764.38,622.10 C772.00,646.14 779.62,667.19 787.25,683.70 C794.88,700.21 802.50,715.00 810.12,725.10 C817.75,735.20 825.38,742.22 833.00,749.00 C840.62,755.78 848.25,761.66 855.88,766.70 C863.50,771.74 871.12,775.34 878.75,779.90 C886.38,784.46 894.00,788.50 901.62,794.10 C909.25,799.70 916.88,806.60 924.50,814.70 C932.12,822.80 939.75,833.42 947.38,844.30 C955.00,855.18 962.62,870.96 970.25,880.70 C977.88,890.44 985.50,896.02 993.12,905.10 C1000.75,914.18 1008.38,929.48 1016.00,935.90 C1023.62,942.32 1031.25,944.43 1038.88,949.90 C1046.50,955.37 1054.12,964.90 1061.75,969.70 C1069.38,974.50 1077.00,976.24 1084.62,981.00 C1092.25,985.76 1099.88,998.87 1107.50,1000.40 C1115.12,1001.93 1122.75,1001.56 1130.38,1003.00 C1138.00,1004.44 1145.62,1013.96 1153.25,1016.00 C1160.88,1018.04 1168.50,1017.84 1176.12,1020.00 C1183.75,1022.16 1191.38,1034.09 1199.00,1037.20 C1206.62,1040.31 1214.25,1041.91 1221.88,1043.60 C1229.50,1045.29 1237.12,1045.89 1244.75,1047.80 C1252.38,1049.71 1260.00,1054.17 1267.62,1056.80 C1275.25,1059.42 1282.88,1061.43 1290.50,1063.80 C1298.12,1066.17 1305.75,1068.33 1313.38,1071.00 C1321.00,1073.67 1328.62,1078.91 1336.25,1080.00 C1343.88,1081.09 1351.50,1080.91 1359.12,1082.00 C1366.75,1083.09 1374.38,1088.86 1382.00,1091.00 C1389.62,1093.14 1397.25,1095.05 1404.88,1096.00 C1412.50,1096.95 1420.12,1097.00 1427.75,1098.00 C1435.38,1099.00 1443.00,1102.79 1450.62,1104.00 C1458.25,1105.21 1465.88,1105.67 1473.50,1106.60 C1481.12,1107.53 1488.75,1109.10 1496.38,1109.60 C1504.00,1110.10 1511.62,1110.02 1519.25,1110.60 C1526.88,1111.18 1534.50,1116.20 1542.12,1117.60 C1549.75,1119.00 1557.38,1120.10 1565.00,1120.60 C1572.62,1121.10 1580.25,1121.16 1587.88,1121.60 C1595.50,1122.04 1603.12,1122.78 1610.75,1123.60 C1618.38,1124.42 1626.00,1126.03 1633.62,1126.80 C1641.25,1127.57 1648.88,1127.83 1656.50,1128.60 C1664.12,1129.37 1671.75,1131.03 1679.38,1131.80 C1687.00,1132.57 1694.62,1132.85 1702.25,1133.60 C1709.88,1134.35 1717.50,1136.60 1725.12,1136.60 C1732.75,1136.60 1740.38,1136.60 1748.00,1136.60 C1755.62,1136.60 1763.25,1137.21 1770.88,1137.80 C1778.50,1138.39 1786.12,1141.20 1793.75,1141.20 C1801.38,1141.20 1809.00,1140.20 1816.62,1140.20 C1824.25,1140.20 1831.88,1142.20 1839.50,1143.20" fill="none" stroke="#ff00ff" stroke-width="4.3" stroke-linejoin="round" stroke-linecap="round"/>
<polygon points="329.75,1138.10 332.92,1147.53 342.87,1147.64 334.89,1153.57 337.86,1163.06 329.75,1157.30 321.64,1163.06 324.61,1153.57 316.63,1147.64 326.58,1147.53" fill="#fff" stroke="#ff00ff" stroke-width="3.4" stroke-linejoin="round"/>
<polygon points="352.62,1124.10 355.80,1133.53 365.75,1133.64 357.76,1139.57 360.74,1149.06 352.62,1143.30 344.51,1149.06 347.49,1139.57 339.50,1133.64 349.45,1133.53" fill="#fff" stroke="#ff00ff" stroke-width="3.4" stroke-linejoin="round"/>
<polygon points="375.50,1089.40 378.67,1098.83 388.62,1098.94 380.64,1104.87 383.61,1114.36 375.50,1108.60 367.39,1114.36 370.36,1104.87 362.38,1098.94 372.33,1098.83" fill="#fff" stroke="#ff00ff" stroke-width="3.4" stroke-linejoin="round"/>
<polygon points="398.38,997.60 401.55,1007.03 411.50,1007.14 403.51,1013.07 406.49,1022.56 398.38,1016.80 390.26,1022.56 393.24,1013.07 385.25,1007.14 395.20,1007.03" fill="#fff" stroke="#ff00ff" stroke-width="3.4" stroke-linejoin="round"/>
<polygon points="421.25,827.20 424.42,836.63 434.37,836.74 426.39,842.67 429.36,852.16 421.25,846.40 413.14,852.16 416.11,842.67 408.13,836.74 418.08,836.63" fill="#fff" stroke="#ff00ff" stroke-width="3.4" stroke-linejoin="round"/>
<polygon points="444.12,546.90 447.30,556.33 457.25,556.44 449.26,562.37 452.24,571.86 444.12,566.10 436.01,571.86 438.99,562.37 431.00,556.44 440.95,556.33" fill="#fff" stroke="#ff00ff" stroke-width="3.4" stroke-linejoin="round"/>
<polygon points="467.00,262.90 470.17,272.33 480.12,272.44 472.14,278.37 475.11,287.86 467.00,282.10 458.89,287.86 461.86,278.37 453.88,272.44 463.83,272.33" fill="#fff" stroke="#ff00ff" stroke-width="3.4" stroke-linejoin="round"/>
<polygon points="489.88,105.40 493.05,114.83 503.00,114.94 495.01,120.87 497.99,130.36 489.88,124.60 481.76,130.36 484.74,120.87 476.75,114.94 486.70,114.83" fill="#fff" stroke="#ff00ff" stroke-width="3.4" stroke-linejoin="round"/>
<polygon points="512.75,115.90 515.92,125.33 525.87,125.44 517.89,131.37 520.86,140.86 512.75,135.10 504.64,140.86 507.61,131.37 499.63,125.44 509.58,125.33" fill="#fff" stroke="#ff00ff" stroke-width="3.4" stroke-linejoin="round"/>
<polygon points="535.62,236.90 538.80,246.33 548.75,246.44 540.76,252.37 543.74,261.86 535.62,256.10 527.51,261.86 530.49,252.37 522.50,246.44 532.45,246.33" fill="#fff" stroke="#ff00ff" stroke-width="3.4" stroke-linejoin="round"/>
<polygon points="558.50,343.40 561.67,352.83 571.62,352.94 563.64,358.87 566.61,368.36 558.50,362.60 550.39,368.36 553.36,358.87 545.38,352.94 555.33,352.83" fill="#fff" stroke="#ff00ff" stroke-width="3.4" stroke-linejoin="round"/>
<polygon points="581.38,380.50 584.55,389.93 594.50,390.04 586.51,395.97 589.49,405.46 581.38,399.70 573.26,405.46 576.24,395.97 568.25,390.04 578.20,389.93" fill="#fff" stroke="#ff00ff" stroke-width="3.4" stroke-linejoin="round"/>
<polygon points="604.25,342.90 607.42,352.33 617.37,352.44 609.39,358.37 612.36,367.86 604.25,362.10 596.14,367.86 599.11,358.37 591.13,352.44 601.08,352.33" fill="#fff" stroke="#ff00ff" stroke-width="3.4" stroke-linejoin="round"/>
<polygon points="627.12,276.90 630.30,286.33 640.25,286.44 632.26,292.37 635.24,301.86 627.12,296.10 619.01,301.86 621.99,292.37 614.00,286.44 623.95,286.33" fill="#fff" stroke="#ff00ff" stroke-width="3.4" stroke-linejoin="round"/>
<polygon points="650.00,256.50 653.17,265.93 663.12,266.04 655.14,271.97 658.11,281.46 650.00,275.70 641.89,281.46 644.86,271.97 636.88,266.04 646.83,265.93" fill="#fff" stroke="#ff00ff" stroke-width="3.4" stroke-linejoin="round"/>
<polygon points="672.88,256.70 676.05,266.13 686.00,266.24 678.01,272.17 680.99,281.66 672.88,275.90 664.76,281.66 667.74,272.17 659.75,266.24 669.70,266.13" fill="#fff" stroke="#ff00ff" stroke-width="3.4" stroke-linejoin="round"/>
<polygon points="695.75,326.00 698.92,335.43 708.87,335.54 700.89,341.47 703.86,350.96 695.75,345.20 687.64,350.96 690.61,341.47 682.63,335.54 692.58,335.43" fill="#fff" stroke="#ff00ff" stroke-width="3.4" stroke-linejoin="round"/>
<polygon points="718.62,422.00 721.80,431.43 731.75,431.54 723.76,437.47 726.74,446.96 718.62,441.20 710.51,446.96 713.49,437.47 705.50,431.54 715.45,431.43" fill="#fff" stroke="#ff00ff" stroke-width="3.4" stroke-linejoin="round"/>
<polygon points="741.50,522.00 744.67,531.43 754.62,531.54 746.64,537.47 749.61,546.96 741.50,541.20 733.39,546.96 736.36,537.47 728.38,531.54 738.33,531.43" fill="#fff" stroke="#ff00ff" stroke-width="3.4" stroke-linejoin="round"/>
<polygon points="764.38,609.00 767.55,618.43 777.50,618.54 769.51,624.47 772.49,633.96 764.38,628.20 756.26,633.96 759.24,624.47 751.25,618.54 761.20,618.43" fill="#fff" stroke="#ff00ff" stroke-width="3.4" stroke-linejoin="round"/>
<polygon points="787.25,670.60 790.42,680.03 800.37,680.14 792.39,686.07 795.36,695.56 787.25,689.80 779.14,695.56 782.11,686.07 774.13,680.14 784.08,680.03" fill="#fff" stroke="#ff00ff" stroke-width="3.4" stroke-linejoin="round"/>
<polygon points="810.12,712.00 813.30,721.43 823.25,721.54 815.26,727.47 818.24,736.96 810.12,731.20 802.01,736.96 804.99,727.47 797.00,721.54 806.95,721.43" fill="#fff" stroke="#ff00ff" stroke-width="3.4" stroke-linejoin="round"/>
<polygon points="833.00,735.90 836.17,745.33 846.12,745.44 838.14,751.37 841.11,760.86 833.00,755.10 824.89,760.86 827.86,751.37 819.88,745.44 829.83,745.33" fill="#fff" stroke="#ff00ff" stroke-width="3.4" stroke-linejoin="round"/>
<polygon points="855.88,753.60 859.05,763.03 869.00,763.14 861.01,769.07 863.99,778.56 855.88,772.80 847.76,778.56 850.74,769.07 842.75,763.14 852.70,763.03" fill="#fff" stroke="#ff00ff" stroke-width="3.4" stroke-linejoin="round"/>
<polygon points="878.75,766.80 881.92,776.23 891.87,776.34 883.89,782.27 886.86,791.76 878.75,786.00 870.64,791.76 873.61,782.27 865.63,776.34 875.58,776.23" fill="#fff" stroke="#ff00ff" stroke-width="3.4" stroke-linejoin="round"/>
<polygon points="901.62,781.00 904.80,790.43 914.75,790.54 906.76,796.47 909.74,805.96 901.62,800.20 893.51,805.96 896.49,796.47 888.50,790.54 898.45,790.43" fill="#fff" stroke="#ff00ff" stroke-width="3.4" stroke-linejoin="round"/>
<polygon points="924.50,801.60 927.67,811.03 937.62,811.14 929.64,817.07 932.61,826.56 924.50,820.80 916.39,826.56 919.36,817.07 911.38,811.14 921.33,811.03" fill="#fff" stroke="#ff00ff" stroke-width="3.4" stroke-linejoin="round"/>
<polygon points="947.38,831.20 950.55,840.63 960.50,840.74 952.51,846.67 955.49,856.16 947.38,850.40 939.26,856.16 942.24,846.67 934.25,840.74 944.20,840.63" fill="#fff" stroke="#ff00ff" stroke-width="3.4" stroke-linejoin="round"/>
<polygon points="970.25,867.60 973.42,877.03 983.37,877.14 975.39,883.07 978.36,892.56 970.25,886.80 962.14,892.56 965.11,883.07 957.13,877.14 967.08,877.03" fill="#fff" stroke="#ff00ff" stroke-width="3.4" stroke-linejoin="round"/>
<polygon points="993.12,892.00 996.30,901.43 1006.25,901.54 998.26,907.47 1001.24,916.96 993.12,911.20 985.01,916.96 987.99,907.47 980.00,901.54 989.95,901.43" fill="#fff" stroke="#ff00ff" stroke-width="3.4" stroke-linejoin="round"/>
<polygon points="1016.00,922.80 1019.17,932.23 1029.12,932.34 1021.14,938.27 1024.11,947.76 1016.00,942.00 1007.89,947.76 1010.86,938.27 1002.88,932.34 1012.83,932.23" fill="#fff" stroke="#ff00ff" stroke-width="3.4" stroke-linejoin="round"/>
<polygon points="1038.88,936.80 1042.05,946.23 1052.00,946.34 1044.01,952.27 1046.99,961.76 1038.88,956.00 1030.76,961.76 1033.74,952.27 1025.75,946.34 1035.70,946.23" fill="#fff" stroke="#ff00ff" stroke-width="3.4" stroke-linejoin="round"/>
<polygon points="1061.75,956.60 1064.92,966.03 1074.87,966.14 1066.89,972.07 1069.86,981.56 1061.75,975.80 1053.64,981.56 1056.61,972.07 1048.63,966.14 1058.58,966.03" fill="#fff" stroke="#ff00ff" stroke-width="3.4" stroke-linejoin="round"/>
<polygon points="1084.62,967.90 1087.80,977.33 1097.75,977.44 1089.76,983.37 1092.74,992.86 1084.62,987.10 1076.51,992.86 1079.49,983.37 1071.50,977.44 1081.45,977.33" fill="#fff" stroke="#ff00ff" stroke-width="3.4" stroke-linejoin="round"/>
<polygon points="1107.50,987.30 1110.67,996.73 1120.62,996.84 1112.64,1002.77 1115.61,1012.26 1107.50,1006.50 1099.39,1012.26 1102.36,1002.77 1094.38,996.84 1104.33,996.73" fill="#fff" stroke="#ff00ff" stroke-width="3.4" stroke-linejoin="round"/>
<polygon points="1130.38,989.90 1133.55,999.33 1143.50,999.44 1135.51,1005.37 1138.49,1014.86 1130.38,1009.10 1122.26,1014.86 1125.24,1005.37 1117.25,999.44 1127.20,999.33" fill="#fff" stroke="#ff00ff" stroke-width="3.4" stroke-linejoin="round"/>
<polygon points="1153.25,1002.90 1156.42,1012.33 1166.37,1012.44 1158.39,1018.37 1161.36,1027.86 1153.25,1022.10 1145.14,1027.86 1148.11,1018.37 1140.13,1012.44 1150.08,1012.33" fill="#fff" stroke="#ff00ff" stroke-width="3.4" stroke-linejoin="round"/>
<polygon points="1176.12,1006.90 1179.30,1016.33 1189.25,1016.44 1181.26,1022.37 1184.24,1031.86 1176.12,1026.10 1168.01,1031.86 1170.99,1022.37 1163.00,1016.44 1172.95,1016.33" fill="#fff" stroke="#ff00ff" stroke-width="3.4" stroke-linejoin="round"/>
<polygon points="1199.00,1024.10 1202.17,1033.53 1212.12,1033.64 1204.14,1039.57 1207.11,1049.06 1199.00,1043.30 1190.89,1049.06 1193.86,1039.57 1185.88,1033.64 1195.83,1033.53" fill="#fff" stroke="#ff00ff" stroke-width="3.4" stroke-linejoin="round"/>
<polygon points="1221.88,1030.50 1225.05,1039.93 1235.00,1040.04 1227.01,1045.97 1229.99,1055.46 1221.88,1049.70 1213.76,1055.46 1216.74,1045.97 1208.75,1040.04 1218.70,1039.93" fill="#fff" stroke="#ff00ff" stroke-width="3.4" stroke-linejoin="round"/>
<polygon points="1244.75,1034.70 1247.92,1044.13 1257.87,1044.24 1249.89,1050.17 1252.86,1059.66 1244.75,1053.90 1236.64,1059.66 1239.61,1050.17 1231.63,1044.24 1241.58,1044.13" fill="#fff" stroke="#ff00ff" stroke-width="3.4" stroke-linejoin="round"/>
<polygon points="1267.62,1043.70 1270.80,1053.13 1280.75,1053.24 1272.76,1059.17 1275.74,1068.66 1267.62,1062.90 1259.51,1068.66 1262.49,1059.17 1254.50,1053.24 1264.45,1053.13" fill="#fff" stroke="#ff00ff" stroke-width="3.4" stroke-linejoin="round"/>
<polygon points="1290.50,1050.70 1293.67,1060.13 1303.62,1060.24 1295.64,1066.17 1298.61,1075.66 1290.50,1069.90 1282.39,1075.66 1285.36,1066.17 1277.38,1060.24 1287.33,1060.13" fill="#fff" stroke="#ff00ff" stroke-width="3.4" stroke-linejoin="round"/>
<polygon points="1313.38,1057.90 1316.55,1067.33 1326.50,1067.44 1318.51,1073.37 1321.49,1082.86 1313.38,1077.10 1305.26,1082.86 1308.24,1073.37 1300.25,1067.44 1310.20,1067.33" fill="#fff" stroke="#ff00ff" stroke-width="3.4" stroke-linejoin="round"/>
<polygon points="1336.25,1066.90 1339.42,1076.33 1349.37,1076.44 1341.39,1082.37 1344.36,1091.86 1336.25,1086.10 1328.14,1091.86 1331.11,1082.37 1323.13,1076.44 1333.08,1076.33" fill="#fff" stroke="#ff00ff" stroke-width="3.4" stroke-linejoin="round"/>
<polygon points="1359.12,1068.90 1362.30,1078.33 1372.25,1078.44 1364.26,1084.37 1367.24,1093.86 1359.12,1088.10 1351.01,1093.86 1353.99,1084.37 1346.00,1078.44 1355.95,1078.33" fill="#fff" stroke="#ff00ff" stroke-width="3.4" stroke-linejoin="round"/>
<polygon points="1382.00,1077.90 1385.17,1087.33 1395.12,1087.44 1387.14,1093.37 1390.11,1102.86 1382.00,1097.10 1373.89,1102.86 1376.86,1093.37 1368.88,1087.44 1378.83,1087.33" fill="#fff" stroke="#ff00ff" stroke-width="3.4" stroke-linejoin="round"/>
<polygon points="1404.88,1082.90 1408.05,1092.33 1418.00,1092.44 1410.01,1098.37 1412.99,1107.86 1404.88,1102.10 1396.76,1107.86 1399.74,1098.37 1391.75,1092.44 1401.70,1092.33" fill="#fff" stroke="#ff00ff" stroke-width="3.4" stroke-linejoin="round"/>
<polygon points="1427.75,1084.90 1430.92,1094.33 1440.87,1094.44 1432.89,1100.37 1435.86,1109.86 1427.75,1104.10 1419.64,1109.86 1422.61,1100.37 1414.63,1094.44 1424.58,1094.33" fill="#fff" stroke="#ff00ff" stroke-width="3.4" stroke-linejoin="round"/>
<polygon points="1450.62,1090.90 1453.80,1100.33 1463.75,1100.44 1455.76,1106.37 1458.74,1115.86 1450.62,1110.10 1442.51,1115.86 1445.49,1106.37 1437.50,1100.44 1447.45,1100.33" fill="#fff" stroke="#ff00ff" stroke-width="3.4" stroke-linejoin="round"/>
<polygon points="1473.50,1093.50 1476.67,1102.93 1486.62,1103.04 1478.64,1108.97 1481.61,1118.46 1473.50,1112.70 1465.39,1118.46 1468.36,1108.97 1460.38,1103.04 1470.33,1102.93" fill="#fff" stroke="#ff00ff" stroke-width="3.4" stroke-linejoin="round"/>
<polygon points="1496.38,1096.50 1499.55,1105.93 1509.50,1106.04 1501.51,1111.97 1504.49,1121.46 1496.38,1115.70 1488.26,1121.46 1491.24,1111.97 1483.25,1106.04 1493.20,1105.93" fill="#fff" stroke="#ff00ff" stroke-width="3.4" stroke-linejoin="round"/>
<polygon points="1519.25,1097.50 1522.42,1106.93 1532.37,1107.04 1524.39,1112.97 1527.36,1122.46 1519.25,1116.70 1511.14,1122.46 1514.11,1112.97 1506.13,1107.04 1516.08,1106.93" fill="#fff" stroke="#ff00ff" stroke-width="3.4" stroke-linejoin="round"/>
<polygon points="1542.12,1104.50 1545.30,1113.93 1555.25,1114.04 1547.26,1119.97 1550.24,1129.46 1542.12,1123.70 1534.01,1129.46 1536.99,1119.97 1529.00,1114.04 1538.95,1113.93" fill="#fff" stroke="#ff00ff" stroke-width="3.4" stroke-linejoin="round"/>
<polygon points="1565.00,1107.50 1568.17,1116.93 1578.12,1117.04 1570.14,1122.97 1573.11,1132.46 1565.00,1126.70 1556.89,1132.46 1559.86,1122.97 1551.88,1117.04 1561.83,1116.93" fill="#fff" stroke="#ff00ff" stroke-width="3.4" stroke-linejoin="round"/>
<polygon points="1587.88,1108.50 1591.05,1117.93 1601.00,1118.04 1593.01,1123.97 1595.99,1133.46 1587.88,1127.70 1579.76,1133.46 1582.74,1123.97 1574.75,1118.04 1584.70,1117.93" fill="#fff" stroke="#ff00ff" stroke-width="3.4" stroke-linejoin="round"/>
<polygon points="1610.75,1110.50 1613.92,1119.93 1623.87,1120.04 1615.89,1125.97 1618.86,1135.46 1610.75,1129.70 1602.64,1135.46 1605.61,1125.97 1597.63,1120.04 1607.58,1119.93" fill="#fff" stroke="#ff00ff" stroke-width="3.4" stroke-linejoin="round"/>
<polygon points="1633.62,1113.70 1636.80,1123.13 1646.75,1123.24 1638.76,1129.17 1641.74,1138.66 1633.62,1132.90 1625.51,1138.66 1628.49,1129.17 1620.50,1123.24 1630.45,1123.13" fill="#fff" stroke="#ff00ff" stroke-width="3.4" stroke-linejoin="round"/>
<polygon points="1656.50,1115.50 1659.67,1124.93 1669.62,1125.04 1661.64,1130.97 1664.61,1140.46 1656.50,1134.70 1648.39,1140.46 1651.36,1130.97 1643.38,1125.04 1653.33,1124.93" fill="#fff" stroke="#ff00ff" stroke-width="3.4" stroke-linejoin="round"/>
<polygon points="1679.38,1118.70 1682.55,1128.13 1692.50,1128.24 1684.51,1134.17 1687.49,1143.66 1679.38,1137.90 1671.26,1143.66 1674.24,1134.17 1666.25,1128.24 1676.20,1128.13" fill="#fff" stroke="#ff00ff" stroke-width="3.4" stroke-linejoin="round"/>
<polygon points="1702.25,1120.50 1705.42,1129.93 1715.37,1130.04 1707.39,1135.97 1710.36,1145.46 1702.25,1139.70 1694.14,1145.46 1697.11,1135.97 1689.13,1130.04 1699.08,1129.93" fill="#fff" stroke="#ff00ff" stroke-width="3.4" stroke-linejoin="round"/>
<polygon points="1725.12,1123.50 1728.30,1132.93 1738.25,1133.04 1730.26,1138.97 1733.24,1148.46 1725.12,1142.70 1717.01,1148.46 1719.99,1138.97 1712.00,1133.04 1721.95,1132.93" fill="#fff" stroke="#ff00ff" stroke-width="3.4" stroke-linejoin="round"/>
<polygon points="1748.00,1123.50 1751.17,1132.93 1761.12,1133.04 1753.14,1138.97 1756.11,1148.46 1748.00,1142.70 1739.89,1148.46 1742.86,1138.97 1734.88,1133.04 1744.83,1132.93" fill="#fff" stroke="#ff00ff" stroke-width="3.4" stroke-linejoin="round"/>
<polygon points="1770.88,1124.70 1774.05,1134.13 1784.00,1134.24 1776.01,1140.17 1778.99,1149.66 1770.88,1143.90 1762.76,1149.66 1765.74,1140.17 1757.75,1134.24 1767.70,1134.13" fill="#fff" stroke="#ff00ff" stroke-width="3.4" stroke-linejoin="round"/>
<polygon points="1793.75,1128.10 1796.92,1137.53 1806.87,1137.64 1798.89,1143.57 1801.86,1153.06 1793.75,1147.30 1785.64,1153.06 1788.61,1143.57 1780.63,1137.64 1790.58,1137.53" fill="#fff" stroke="#ff00ff" stroke-width="3.4" stroke-linejoin="round"/>
<polygon points="1816.62,1127.10 1819.80,1136.53 1829.75,1136.64 1821.76,1142.57 1824.74,1152.06 1816.62,1146.30 1808.51,1152.06 1811.49,1142.57 1803.50,1136.64 1813.45,1136.53" fill="#fff" stroke="#ff00ff" stroke-width="3.4" stroke-linejoin="round"/>
<polygon points="1839.50,1130.10 1842.67,1139.53 1852.62,1139.64 1844.64,1145.57 1847.61,1155.06 1839.50,1149.30 1831.39,1155.06 1834.36,1145.57 1826.38,1139.64 1836.33,1139.53" fill="#fff" stroke="#ff00ff" stroke-width="3.4" stroke-linejoin="round"/>
<path d="M314.50,1158.00 C319.58,1157.73 324.67,1157.57 329.75,1157.20 C337.38,1156.64 345.00,1155.77 352.62,1154.20 C360.25,1152.63 367.88,1148.82 375.50,1143.20 C383.12,1137.58 390.75,1123.78 398.38,1107.20 C406.00,1090.62 413.62,1063.72 421.25,1026.70 C428.88,989.68 436.50,913.32 444.12,847.70 C451.75,782.08 459.38,692.72 467.00,629.00 C474.62,565.28 482.25,497.13 489.88,459.20 C492.42,446.56 494.96,431.61 497.50,428.50 C500.04,425.39 502.58,424.78 505.12,423.00 C507.67,421.22 510.21,417.80 512.75,417.80 C520.38,417.80 528.00,467.23 535.62,494.20 C543.25,521.17 550.88,554.59 558.50,580.20 C561.04,588.74 563.58,600.01 566.12,604.00 C568.67,607.99 571.21,609.15 573.75,612.00 C576.29,614.85 578.83,619.10 581.38,621.20 C583.92,623.30 586.46,626.00 589.00,626.00 C591.54,626.00 594.08,622.92 596.62,621.00 C599.17,619.08 601.71,616.94 604.25,614.20 C611.88,605.97 619.50,586.52 627.12,579.20 C634.75,571.88 642.38,563.20 650.00,563.20 C657.62,563.20 665.25,568.18 672.88,573.80 C680.50,579.42 688.12,597.91 695.75,615.10 C703.38,632.29 711.00,661.38 718.62,683.70 C726.25,706.02 733.88,727.27 741.50,749.10 C749.12,770.93 756.75,797.29 764.38,814.70 C772.00,832.11 779.62,845.47 787.25,858.10 C794.88,870.73 802.50,883.50 810.12,891.70 C817.75,899.90 825.38,908.37 833.00,911.10 C840.62,913.83 848.25,913.89 855.88,916.30 C863.50,918.71 871.12,924.10 878.75,928.10 C886.38,932.10 894.00,936.17 901.62,940.30 C909.25,944.43 916.88,948.17 924.50,952.90 C932.12,957.62 939.75,963.09 947.38,969.10 C955.00,975.11 962.62,983.08 970.25,989.40 C977.88,995.72 985.50,1001.58 993.12,1007.20 C1000.75,1012.82 1008.38,1018.42 1016.00,1023.20 C1023.62,1027.98 1031.25,1031.65 1038.88,1036.20 C1046.50,1040.75 1054.12,1047.58 1061.75,1050.60 C1069.38,1053.62 1077.00,1054.87 1084.62,1057.20 C1092.25,1059.53 1099.88,1062.87 1107.50,1064.60 C1115.12,1066.33 1122.75,1067.00 1130.38,1068.60 C1138.00,1070.20 1145.62,1072.60 1153.25,1074.60 C1160.88,1076.60 1168.50,1078.78 1176.12,1080.60 C1183.75,1082.42 1191.38,1084.20 1199.00,1085.60 C1206.62,1087.00 1214.25,1087.76 1221.88,1089.20 C1229.50,1090.64 1237.12,1093.31 1244.75,1094.60 C1252.38,1095.89 1260.00,1096.22 1267.62,1097.60 C1275.25,1098.97 1282.88,1102.83 1290.50,1104.20 C1298.12,1105.58 1305.75,1106.40 1313.38,1107.20 C1321.00,1108.00 1328.62,1108.28 1336.25,1109.20 C1343.88,1110.12 1351.50,1112.20 1359.12,1113.60 C1366.75,1115.00 1374.38,1116.84 1382.00,1117.60 C1389.62,1118.36 1397.25,1118.47 1404.88,1119.20 C1412.50,1119.93 1420.12,1121.79 1427.75,1122.60 C1435.38,1123.41 1443.00,1123.84 1450.62,1124.50 C1458.25,1125.16 1465.88,1125.78 1473.50,1126.60 C1481.12,1127.42 1488.75,1128.90 1496.38,1129.60 C1504.00,1130.30 1511.62,1130.56 1519.25,1131.20 C1526.88,1131.84 1534.50,1132.77 1542.12,1133.60 C1549.75,1134.43 1557.38,1136.20 1565.00,1136.20 C1572.62,1136.20 1580.25,1136.20 1587.88,1136.20 C1595.50,1136.20 1603.12,1138.13 1610.75,1138.60 C1618.38,1139.07 1626.00,1139.12 1633.62,1139.60 C1641.25,1140.08 1648.88,1141.72 1656.50,1142.20 C1664.12,1142.68 1671.75,1142.81 1679.38,1143.20 C1687.00,1143.59 1694.62,1144.17 1702.25,1144.60 C1709.88,1145.03 1717.50,1145.80 1725.12,1145.80 C1732.75,1145.80 1740.38,1145.20 1748.00,1145.20 C1755.62,1145.20 1763.25,1145.57 1770.88,1145.80 C1778.50,1146.03 1786.12,1146.19 1793.75,1146.60 C1801.38,1147.01 1809.00,1149.20 1816.62,1149.20 C1824.25,1149.20 1831.88,1149.07 1839.50,1149.00" fill="none" stroke="#900000" stroke-width="4.3" stroke-linejoin="round" stroke-linecap="round"/>
<polygon points="329.75,1144.10 332.92,1153.53 342.87,1153.64 334.89,1159.57 337.86,1169.06 329.75,1163.30 321.64,1169.06 324.61,1159.57 316.63,1153.64 326.58,1153.53" fill="#900000" stroke="#900000" stroke-width="3.4" stroke-linejoin="round"/>
<polygon points="352.62,1141.10 355.80,1150.53 365.75,1150.64 357.76,1156.57 360.74,1166.06 352.62,1160.30 344.51,1166.06 347.49,1156.57 339.50,1150.64 349.45,1150.53" fill="#900000" stroke="#900000" stroke-width="3.4" stroke-linejoin="round"/>
<polygon points="375.50,1130.10 378.67,1139.53 388.62,1139.64 380.64,1145.57 383.61,1155.06 375.50,1149.30 367.39,1155.06 370.36,1145.57 362.38,1139.64 372.33,1139.53" fill="#900000" stroke="#900000" stroke-width="3.4" stroke-linejoin="round"/>
<polygon points="398.38,1094.10 401.55,1103.53 411.50,1103.64 403.51,1109.57 406.49,1119.06 398.38,1113.30 390.26,1119.06 393.24,1109.57 385.25,1103.64 395.20,1103.53" fill="#900000" stroke="#900000" stroke-width="3.4" stroke-linejoin="round"/>
<polygon points="421.25,1013.60 424.42,1023.03 434.37,1023.14 426.39,1029.07 429.36,1038.56 421.25,1032.80 413.14,1038.56 416.11,1029.07 408.13,1023.14 418.08,1023.03" fill="#900000" stroke="#900000" stroke-width="3.4" stroke-linejoin="round"/>
<polygon points="444.12,834.60 447.30,844.03 457.25,844.14 449.26,850.07 452.24,859.56 444.12,853.80 436.01,859.56 438.99,850.07 431.00,844.14 440.95,844.03" fill="#900000" stroke="#900000" stroke-width="3.4" stroke-linejoin="round"/>
<polygon points="467.00,615.90 470.17,625.33 480.12,625.44 472.14,631.37 475.11,640.86 467.00,635.10 458.89,640.86 461.86,631.37 453.88,625.44 463.83,625.33" fill="#900000" stroke="#900000" stroke-width="3.4" stroke-linejoin="round"/>
<polygon points="489.88,446.10 493.05,455.53 503.00,455.64 495.01,461.57 497.99,471.06 489.88,465.30 481.76,471.06 484.74,461.57 476.75,455.64 486.70,455.53" fill="#900000" stroke="#900000" stroke-width="3.4" stroke-linejoin="round"/>
<polygon points="512.75,404.70 515.92,414.13 525.87,414.24 517.89,420.17 520.86,429.66 512.75,423.90 504.64,429.66 507.61,420.17 499.63,414.24 509.58,414.13" fill="#900000" stroke="#900000" stroke-width="3.4" stroke-linejoin="round"/>
<polygon points="535.62,481.10 538.80,490.53 548.75,490.64 540.76,496.57 543.74,506.06 535.62,500.30 527.51,506.06 530.49,496.57 522.50,490.64 532.45,490.53" fill="#900000" stroke="#900000" stroke-width="3.4" stroke-linejoin="round"/>
<polygon points="558.50,567.10 561.67,576.53 571.62,576.64 563.64,582.57 566.61,592.06 558.50,586.30 550.39,592.06 553.36,582.57 545.38,576.64 555.33,576.53" fill="#900000" stroke="#900000" stroke-width="3.4" stroke-linejoin="round"/>
<polygon points="581.38,608.10 584.55,617.53 594.50,617.64 586.51,623.57 589.49,633.06 581.38,627.30 573.26,633.06 576.24,623.57 568.25,617.64 578.20,617.53" fill="#900000" stroke="#900000" stroke-width="3.4" stroke-linejoin="round"/>
<polygon points="604.25,601.10 607.42,610.53 617.37,610.64 609.39,616.57 612.36,626.06 604.25,620.30 596.14,626.06 599.11,616.57 591.13,610.64 601.08,610.53" fill="#900000" stroke="#900000" stroke-width="3.4" stroke-linejoin="round"/>
<polygon points="627.12,566.10 630.30,575.53 640.25,575.64 632.26,581.57 635.24,591.06 627.12,585.30 619.01,591.06 621.99,581.57 614.00,575.64 623.95,575.53" fill="#900000" stroke="#900000" stroke-width="3.4" stroke-linejoin="round"/>
<polygon points="650.00,550.10 653.17,559.53 663.12,559.64 655.14,565.57 658.11,575.06 650.00,569.30 641.89,575.06 644.86,565.57 636.88,559.64 646.83,559.53" fill="#900000" stroke="#900000" stroke-width="3.4" stroke-linejoin="round"/>
<polygon points="672.88,560.70 676.05,570.13 686.00,570.24 678.01,576.17 680.99,585.66 672.88,579.90 664.76,585.66 667.74,576.17 659.75,570.24 669.70,570.13" fill="#900000" stroke="#900000" stroke-width="3.4" stroke-linejoin="round"/>
<polygon points="695.75,602.00 698.92,611.43 708.87,611.54 700.89,617.47 703.86,626.96 695.75,621.20 687.64,626.96 690.61,617.47 682.63,611.54 692.58,611.43" fill="#900000" stroke="#900000" stroke-width="3.4" stroke-linejoin="round"/>
<polygon points="718.62,670.60 721.80,680.03 731.75,680.14 723.76,686.07 726.74,695.56 718.62,689.80 710.51,695.56 713.49,686.07 705.50,680.14 715.45,680.03" fill="#900000" stroke="#900000" stroke-width="3.4" stroke-linejoin="round"/>
<polygon points="741.50,736.00 744.67,745.43 754.62,745.54 746.64,751.47 749.61,760.96 741.50,755.20 733.39,760.96 736.36,751.47 728.38,745.54 738.33,745.43" fill="#900000" stroke="#900000" stroke-width="3.4" stroke-linejoin="round"/>
<polygon points="764.38,801.60 767.55,811.03 777.50,811.14 769.51,817.07 772.49,826.56 764.38,820.80 756.26,826.56 759.24,817.07 751.25,811.14 761.20,811.03" fill="#900000" stroke="#900000" stroke-width="3.4" stroke-linejoin="round"/>
<polygon points="787.25,845.00 790.42,854.43 800.37,854.54 792.39,860.47 795.36,869.96 787.25,864.20 779.14,869.96 782.11,860.47 774.13,854.54 784.08,854.43" fill="#900000" stroke="#900000" stroke-width="3.4" stroke-linejoin="round"/>
<polygon points="810.12,878.60 813.30,888.03 823.25,888.14 815.26,894.07 818.24,903.56 810.12,897.80 802.01,903.56 804.99,894.07 797.00,888.14 806.95,888.03" fill="#900000" stroke="#900000" stroke-width="3.4" stroke-linejoin="round"/>
<polygon points="833.00,898.00 836.17,907.43 846.12,907.54 838.14,913.47 841.11,922.96 833.00,917.20 824.89,922.96 827.86,913.47 819.88,907.54 829.83,907.43" fill="#900000" stroke="#900000" stroke-width="3.4" stroke-linejoin="round"/>
<polygon points="855.88,903.20 859.05,912.63 869.00,912.74 861.01,918.67 863.99,928.16 855.88,922.40 847.76,928.16 850.74,918.67 842.75,912.74 852.70,912.63" fill="#900000" stroke="#900000" stroke-width="3.4" stroke-linejoin="round"/>
<polygon points="878.75,915.00 881.92,924.43 891.87,924.54 883.89,930.47 886.86,939.96 878.75,934.20 870.64,939.96 873.61,930.47 865.63,924.54 875.58,924.43" fill="#900000" stroke="#900000" stroke-width="3.4" stroke-linejoin="round"/>
<polygon points="901.62,927.20 904.80,936.63 914.75,936.74 906.76,942.67 909.74,952.16 901.62,946.40 893.51,952.16 896.49,942.67 888.50,936.74 898.45,936.63" fill="#900000" stroke="#900000" stroke-width="3.4" stroke-linejoin="round"/>
<polygon points="924.50,939.80 927.67,949.23 937.62,949.34 929.64,955.27 932.61,964.76 924.50,959.00 916.39,964.76 919.36,955.27 911.38,949.34 921.33,949.23" fill="#900000" stroke="#900000" stroke-width="3.4" stroke-linejoin="round"/>
<polygon points="947.38,956.00 950.55,965.43 960.50,965.54 952.51,971.47 955.49,980.96 947.38,975.20 939.26,980.96 942.24,971.47 934.25,965.54 944.20,965.43" fill="#900000" stroke="#900000" stroke-width="3.4" stroke-linejoin="round"/>
<polygon points="970.25,976.30 973.42,985.73 983.37,985.84 975.39,991.77 978.36,1001.26 970.25,995.50 962.14,1001.26 965.11,991.77 957.13,985.84 967.08,985.73" fill="#900000" stroke="#900000" stroke-width="3.4" stroke-linejoin="round"/>
<polygon points="993.12,994.10 996.30,1003.53 1006.25,1003.64 998.26,1009.57 1001.24,1019.06 993.12,1013.30 985.01,1019.06 987.99,1009.57 980.00,1003.64 989.95,1003.53" fill="#900000" stroke="#900000" stroke-width="3.4" stroke-linejoin="round"/>
<polygon points="1016.00,1010.10 1019.17,1019.53 1029.12,1019.64 1021.14,1025.57 1024.11,1035.06 1016.00,1029.30 1007.89,1035.06 1010.86,1025.57 1002.88,1019.64 1012.83,1019.53" fill="#900000" stroke="#900000" stroke-width="3.4" stroke-linejoin="round"/>
<polygon points="1038.88,1023.10 1042.05,1032.53 1052.00,1032.64 1044.01,1038.57 1046.99,1048.06 1038.88,1042.30 1030.76,1048.06 1033.74,1038.57 1025.75,1032.64 1035.70,1032.53" fill="#900000" stroke="#900000" stroke-width="3.4" stroke-linejoin="round"/>
<polygon points="1061.75,1037.50 1064.92,1046.93 1074.87,1047.04 1066.89,1052.97 1069.86,1062.46 1061.75,1056.70 1053.64,1062.46 1056.61,1052.97 1048.63,1047.04 1058.58,1046.93" fill="#900000" stroke="#900000" stroke-width="3.4" stroke-linejoin="round"/>
<polygon points="1084.62,1044.10 1087.80,1053.53 1097.75,1053.64 1089.76,1059.57 1092.74,1069.06 1084.62,1063.30 1076.51,1069.06 1079.49,1059.57 1071.50,1053.64 1081.45,1053.53" fill="#900000" stroke="#900000" stroke-width="3.4" stroke-linejoin="round"/>
<polygon points="1107.50,1051.50 1110.67,1060.93 1120.62,1061.04 1112.64,1066.97 1115.61,1076.46 1107.50,1070.70 1099.39,1076.46 1102.36,1066.97 1094.38,1061.04 1104.33,1060.93" fill="#900000" stroke="#900000" stroke-width="3.4" stroke-linejoin="round"/>
<polygon points="1130.38,1055.50 1133.55,1064.93 1143.50,1065.04 1135.51,1070.97 1138.49,1080.46 1130.38,1074.70 1122.26,1080.46 1125.24,1070.97 1117.25,1065.04 1127.20,1064.93" fill="#900000" stroke="#900000" stroke-width="3.4" stroke-linejoin="round"/>
<polygon points="1153.25,1061.50 1156.42,1070.93 1166.37,1071.04 1158.39,1076.97 1161.36,1086.46 1153.25,1080.70 1145.14,1086.46 1148.11,1076.97 1140.13,1071.04 1150.08,1070.93" fill="#900000" stroke="#900000" stroke-width="3.4" stroke-linejoin="round"/>
<polygon points="1176.12,1067.50 1179.30,1076.93 1189.25,1077.04 1181.26,1082.97 1184.24,1092.46 1176.12,1086.70 1168.01,1092.46 1170.99,1082.97 1163.00,1077.04 1172.95,1076.93" fill="#900000" stroke="#900000" stroke-width="3.4" stroke-linejoin="round"/>
<polygon points="1199.00,1072.50 1202.17,1081.93 1212.12,1082.04 1204.14,1087.97 1207.11,1097.46 1199.00,1091.70 1190.89,1097.46 1193.86,1087.97 1185.88,1082.04 1195.83,1081.93" fill="#900000" stroke="#900000" stroke-width="3.4" stroke-linejoin="round"/>
<polygon points="1221.88,1076.10 1225.05,1085.53 1235.00,1085.64 1227.01,1091.57 1229.99,1101.06 1221.88,1095.30 1213.76,1101.06 1216.74,1091.57 1208.75,1085.64 1218.70,1085.53" fill="#900000" stroke="#900000" stroke-width="3.4" stroke-linejoin="round"/>
<polygon points="1244.75,1081.50 1247.92,1090.93 1257.87,1091.04 1249.89,1096.97 1252.86,1106.46 1244.75,1100.70 1236.64,1106.46 1239.61,1096.97 1231.63,1091.04 1241.58,1090.93" fill="#900000" stroke="#900000" stroke-width="3.4" stroke-linejoin="round"/>
<polygon points="1267.62,1084.50 1270.80,1093.93 1280.75,1094.04 1272.76,1099.97 1275.74,1109.46 1267.62,1103.70 1259.51,1109.46 1262.49,1099.97 1254.50,1094.04 1264.45,1093.93" fill="#900000" stroke="#900000" stroke-width="3.4" stroke-linejoin="round"/>
<polygon points="1290.50,1091.10 1293.67,1100.53 1303.62,1100.64 1295.64,1106.57 1298.61,1116.06 1290.50,1110.30 1282.39,1116.06 1285.36,1106.57 1277.38,1100.64 1287.33,1100.53" fill="#900000" stroke="#900000" stroke-width="3.4" stroke-linejoin="round"/>
<polygon points="1313.38,1094.10 1316.55,1103.53 1326.50,1103.64 1318.51,1109.57 1321.49,1119.06 1313.38,1113.30 1305.26,1119.06 1308.24,1109.57 1300.25,1103.64 1310.20,1103.53" fill="#900000" stroke="#900000" stroke-width="3.4" stroke-linejoin="round"/>
<polygon points="1336.25,1096.10 1339.42,1105.53 1349.37,1105.64 1341.39,1111.57 1344.36,1121.06 1336.25,1115.30 1328.14,1121.06 1331.11,1111.57 1323.13,1105.64 1333.08,1105.53" fill="#900000" stroke="#900000" stroke-width="3.4" stroke-linejoin="round"/>
<polygon points="1359.12,1100.50 1362.30,1109.93 1372.25,1110.04 1364.26,1115.97 1367.24,1125.46 1359.12,1119.70 1351.01,1125.46 1353.99,1115.97 1346.00,1110.04 1355.95,1109.93" fill="#900000" stroke="#900000" stroke-width="3.4" stroke-linejoin="round"/>
<polygon points="1382.00,1104.50 1385.17,1113.93 1395.12,1114.04 1387.14,1119.97 1390.11,1129.46 1382.00,1123.70 1373.89,1129.46 1376.86,1119.97 1368.88,1114.04 1378.83,1113.93" fill="#900000" stroke="#900000" stroke-width="3.4" stroke-linejoin="round"/>
<polygon points="1404.88,1106.10 1408.05,1115.53 1418.00,1115.64 1410.01,1121.57 1412.99,1131.06 1404.88,1125.30 1396.76,1131.06 1399.74,1121.57 1391.75,1115.64 1401.70,1115.53" fill="#900000" stroke="#900000" stroke-width="3.4" stroke-linejoin="round"/>
<polygon points="1427.75,1109.50 1430.92,1118.93 1440.87,1119.04 1432.89,1124.97 1435.86,1134.46 1427.75,1128.70 1419.64,1134.46 1422.61,1124.97 1414.63,1119.04 1424.58,1118.93" fill="#900000" stroke="#900000" stroke-width="3.4" stroke-linejoin="round"/>
<polygon points="1450.62,1111.40 1453.80,1120.83 1463.75,1120.94 1455.76,1126.87 1458.74,1136.36 1450.62,1130.60 1442.51,1136.36 1445.49,1126.87 1437.50,1120.94 1447.45,1120.83" fill="#900000" stroke="#900000" stroke-width="3.4" stroke-linejoin="round"/>
<polygon points="1473.50,1113.50 1476.67,1122.93 1486.62,1123.04 1478.64,1128.97 1481.61,1138.46 1473.50,1132.70 1465.39,1138.46 1468.36,1128.97 1460.38,1123.04 1470.33,1122.93" fill="#900000" stroke="#900000" stroke-width="3.4" stroke-linejoin="round"/>
<polygon points="1496.38,1116.50 1499.55,1125.93 1509.50,1126.04 1501.51,1131.97 1504.49,1141.46 1496.38,1135.70 1488.26,1141.46 1491.24,1131.97 1483.25,1126.04 1493.20,1125.93" fill="#900000" stroke="#900000" stroke-width="3.4" stroke-linejoin="round"/>
<polygon points="1519.25,1118.10 1522.42,1127.53 1532.37,1127.64 1524.39,1133.57 1527.36,1143.06 1519.25,1137.30 1511.14,1143.06 1514.11,1133.57 1506.13,1127.64 1516.08,1127.53" fill="#900000" stroke="#900000" stroke-width="3.4" stroke-linejoin="round"/>
<polygon points="1542.12,1120.50 1545.30,1129.93 1555.25,1130.04 1547.26,1135.97 1550.24,1145.46 1542.12,1139.70 1534.01,1145.46 1536.99,1135.97 1529.00,1130.04 1538.95,1129.93" fill="#900000" stroke="#900000" stroke-width="3.4" stroke-linejoin="round"/>
<polygon points="1565.00,1123.10 1568.17,1132.53 1578.12,1132.64 1570.14,1138.57 1573.11,1148.06 1565.00,1142.30 1556.89,1148.06 1559.86,1138.57 1551.88,1132.64 1561.83,1132.53" fill="#900000" stroke="#900000" stroke-width="3.4" stroke-linejoin="round"/>
<polygon points="1587.88,1123.10 1591.05,1132.53 1601.00,1132.64 1593.01,1138.57 1595.99,1148.06 1587.88,1142.30 1579.76,1148.06 1582.74,1138.57 1574.75,1132.64 1584.70,1132.53" fill="#900000" stroke="#900000" stroke-width="3.4" stroke-linejoin="round"/>
<polygon points="1610.75,1125.50 1613.92,1134.93 1623.87,1135.04 1615.89,1140.97 1618.86,1150.46 1610.75,1144.70 1602.64,1150.46 1605.61,1140.97 1597.63,1135.04 1607.58,1134.93" fill="#900000" stroke="#900000" stroke-width="3.4" stroke-linejoin="round"/>
<polygon points="1633.62,1126.50 1636.80,1135.93 1646.75,1136.04 1638.76,1141.97 1641.74,1151.46 1633.62,1145.70 1625.51,1151.46 1628.49,1141.97 1620.50,1136.04 1630.45,1135.93" fill="#900000" stroke="#900000" stroke-width="3.4" stroke-linejoin="round"/>
<polygon points="1656.50,1129.10 1659.67,1138.53 1669.62,1138.64 1661.64,1144.57 1664.61,1154.06 1656.50,1148.30 1648.39,1154.06 1651.36,1144.57 1643.38,1138.64 1653.33,1138.53" fill="#900000" stroke="#900000" stroke-width="3.4" stroke-linejoin="round"/>
<polygon points="1679.38,1130.10 1682.55,1139.53 1692.50,1139.64 1684.51,1145.57 1687.49,1155.06 1679.38,1149.30 1671.26,1155.06 1674.24,1145.57 1666.25,1139.64 1676.20,1139.53" fill="#900000" stroke="#900000" stroke-width="3.4" stroke-linejoin="round"/>
<polygon points="1702.25,1131.50 1705.42,1140.93 1715.37,1141.04 1707.39,1146.97 1710.36,1156.46 1702.25,1150.70 1694.14,1156.46 1697.11,1146.97 1689.13,1141.04 1699.08,1140.93" fill="#900000" stroke="#900000" stroke-width="3.4" stroke-linejoin="round"/>
<polygon points="1725.12,1132.70 1728.30,1142.13 1738.25,1142.24 1730.26,1148.17 1733.24,1157.66 1725.12,1151.90 1717.01,1157.66 1719.99,1148.17 1712.00,1142.24 1721.95,1142.13" fill="#900000" stroke="#900000" stroke-width="3.4" stroke-linejoin="round"/>
<polygon points="1748.00,1132.10 1751.17,1141.53 1761.12,1141.64 1753.14,1147.57 1756.11,1157.06 1748.00,1151.30 1739.89,1157.06 1742.86,1147.57 1734.88,1141.64 1744.83,1141.53" fill="#900000" stroke="#900000" stroke-width="3.4" stroke-linejoin="round"/>
<polygon points="1770.88,1132.70 1774.05,1142.13 1784.00,1142.24 1776.01,1148.17 1778.99,1157.66 1770.88,1151.90 1762.76,1157.66 1765.74,1148.17 1757.75,1142.24 1767.70,1142.13" fill="#900000" stroke="#900000" stroke-width="3.4" stroke-linejoin="round"/>
<polygon points="1793.75,1133.50 1796.92,1142.93 1806.87,1143.04 1798.89,1148.97 1801.86,1158.46 1793.75,1152.70 1785.64,1158.46 1788.61,1148.97 1780.63,1143.04 1790.58,1142.93" fill="#900000" stroke="#900000" stroke-width="3.4" stroke-linejoin="round"/>
<polygon points="1816.62,1136.10 1819.80,1145.53 1829.75,1145.64 1821.76,1151.57 1824.74,1161.06 1816.62,1155.30 1808.51,1161.06 1811.49,1151.57 1803.50,1145.64 1813.45,1145.53" fill="#900000" stroke="#900000" stroke-width="3.4" stroke-linejoin="round"/>
<polygon points="1839.50,1135.90 1842.67,1145.33 1852.62,1145.44 1844.64,1151.37 1847.61,1160.86 1839.50,1155.10 1831.39,1160.86 1834.36,1151.37 1826.38,1145.44 1836.33,1145.33" fill="#900000" stroke="#900000" stroke-width="3.4" stroke-linejoin="round"/>
</g>
<rect x="1383" y="96" width="273" height="440.6" fill="#000"/>
<rect x="1366.45" y="79.3" width="272.4" height="438.9" fill="#fff" stroke="#000" stroke-width="2.7"/>
<g shape-rendering="geometricPrecision">
<line x1="1389" y1="156.2" x2="1515" y2="156.2" stroke="#000000" stroke-width="4" stroke-linecap="round"/>
<circle cx="1452.00" cy="156.20" r="7.2" fill="#fff" stroke="#000" stroke-width="2.2"/>
<line x1="1389" y1="228.0" x2="1515" y2="228.0" stroke="#ff0000" stroke-width="4" stroke-linecap="round"/>
<circle cx="1452.00" cy="228.40" r="13.4" fill="url(#ball)"/>
<line x1="1389" y1="299.0" x2="1515" y2="299.0" stroke="#0000ff" stroke-width="4" stroke-linecap="round"/>
<polygon points="1452.00,281.60 1467.35,308.80 1436.65,308.80" fill="#0000ff" stroke="#0000ff" stroke-width="1.6" stroke-linejoin="round"/>
<line x1="1389" y1="370.7" x2="1515" y2="370.7" stroke="#ff00ff" stroke-width="4" stroke-linecap="round"/>
<polygon points="1452.00,357.60 1455.17,367.03 1465.12,367.14 1457.14,373.07 1460.11,382.56 1452.00,376.80 1443.89,382.56 1446.86,373.07 1438.88,367.14 1448.83,367.03" fill="#fff" stroke="#ff00ff" stroke-width="3.4" stroke-linejoin="round"/>
<line x1="1389" y1="442.8" x2="1515" y2="442.8" stroke="#900000" stroke-width="4" stroke-linecap="round"/>
<polygon points="1452.00,429.70 1455.17,439.13 1465.12,439.24 1457.14,445.17 1460.11,454.66 1452.00,448.90 1443.89,454.66 1446.86,445.17 1438.88,439.24 1448.83,439.13" fill="#900000" stroke="#900000" stroke-width="3.4" stroke-linejoin="round"/>
</g>
<g fill="#000">
<text transform="matrix(0.55357 0 0 0.57957 1547.232 175.929)" font-size="100" font-weight="bold" text-anchor="start">(a)</text>
<text transform="matrix(0.55357 0 0 0.57957 1547.232 247.729)" font-size="100" font-weight="bold" text-anchor="start">(b)</text>
<text transform="matrix(0.55357 0 0 0.57957 1547.232 318.729)" font-size="100" font-weight="bold" text-anchor="start">(c)</text>
<text transform="matrix(0.55357 0 0 0.57957 1547.232 390.429)" font-size="100" font-weight="bold" text-anchor="start">(d)</text>
<text transform="matrix(0.55357 0 0 0.57957 1547.232 462.529)" font-size="100" font-weight="bold" text-anchor="start">(e)</text>
</g>
</svg>
</body></html>
